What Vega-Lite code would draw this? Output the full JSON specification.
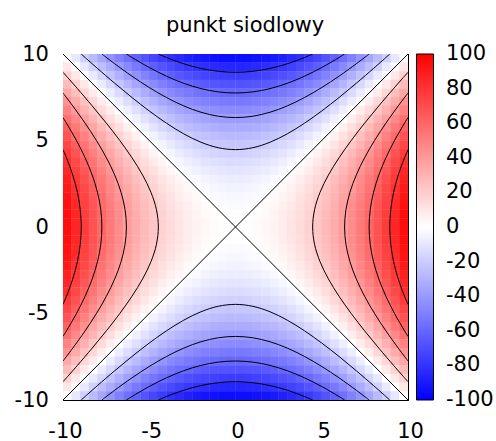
{
"$schema": "https://vega.github.io/schema/vega-lite/v6.json",
"width": 345, "height": 346,
"autosize": "none",
"padding": {"left": 63, "top": 54, "right": 88, "bottom": 41},
"background": "white",
"title": {"text": "punkt siodlowy", "font": "DejaVu Sans", "fontSize": 21, "fontWeight": "normal", "color": "black", "anchor": "middle", "dx": 9.5, "offset": 23, "dy": 33, "baseline": "alphabetic"},
"config": {
  "view": {"stroke": "black", "strokeWidth": 1},
  "axis": {"labelFont": "DejaVu Sans", "labelFontSize": 21, "labelColor": "black", "tickColor": "black", "tickSize": -8, "tickWidth": 1, "domain": false, "grid": false, "title": null, "labelFlush": false}
},
"datasets": {
"grid": [
{"x":-9.75,"y":9.75,"z":0},{"x":-9.25,"y":9.75,"z":-9.5},{"x":-8.75,"y":9.75,"z":-18.5},{"x":-8.25,"y":9.75,"z":-27},{"x":-7.75,"y":9.75,"z":-35},{"x":-7.25,"y":9.75,"z":-42.5},{"x":-6.75,"y":9.75,"z":-49.5},{"x":-6.25,"y":9.75,"z":-56},{"x":-5.75,"y":9.75,"z":-62},{"x":-5.25,"y":9.75,"z":-67.5},{"x":-4.75,"y":9.75,"z":-72.5},{"x":-4.25,"y":9.75,"z":-77},{"x":-3.75,"y":9.75,"z":-81},{"x":-3.25,"y":9.75,"z":-84.5},{"x":-2.75,"y":9.75,"z":-87.5},{"x":-2.25,"y":9.75,"z":-90},{"x":-1.75,"y":9.75,"z":-92},{"x":-1.25,"y":9.75,"z":-93.5},{"x":-0.75,"y":9.75,"z":-94.5},{"x":-0.25,"y":9.75,"z":-95},{"x":0.25,"y":9.75,"z":-95},{"x":0.75,"y":9.75,"z":-94.5},{"x":1.25,"y":9.75,"z":-93.5},{"x":1.75,"y":9.75,"z":-92},{"x":2.25,"y":9.75,"z":-90},{"x":2.75,"y":9.75,"z":-87.5},{"x":3.25,"y":9.75,"z":-84.5},{"x":3.75,"y":9.75,"z":-81},{"x":4.25,"y":9.75,"z":-77},{"x":4.75,"y":9.75,"z":-72.5},{"x":5.25,"y":9.75,"z":-67.5},{"x":5.75,"y":9.75,"z":-62},{"x":6.25,"y":9.75,"z":-56},{"x":6.75,"y":9.75,"z":-49.5},{"x":7.25,"y":9.75,"z":-42.5},{"x":7.75,"y":9.75,"z":-35},{"x":8.25,"y":9.75,"z":-27},{"x":8.75,"y":9.75,"z":-18.5},{"x":9.25,"y":9.75,"z":-9.5},{"x":9.75,"y":9.75,"z":0},
{"x":-9.75,"y":9.25,"z":9.5},{"x":-9.25,"y":9.25,"z":0},{"x":-8.75,"y":9.25,"z":-9},{"x":-8.25,"y":9.25,"z":-17.5},{"x":-7.75,"y":9.25,"z":-25.5},{"x":-7.25,"y":9.25,"z":-33},{"x":-6.75,"y":9.25,"z":-40},{"x":-6.25,"y":9.25,"z":-46.5},{"x":-5.75,"y":9.25,"z":-52.5},{"x":-5.25,"y":9.25,"z":-58},{"x":-4.75,"y":9.25,"z":-63},{"x":-4.25,"y":9.25,"z":-67.5},{"x":-3.75,"y":9.25,"z":-71.5},{"x":-3.25,"y":9.25,"z":-75},{"x":-2.75,"y":9.25,"z":-78},{"x":-2.25,"y":9.25,"z":-80.5},{"x":-1.75,"y":9.25,"z":-82.5},{"x":-1.25,"y":9.25,"z":-84},{"x":-0.75,"y":9.25,"z":-85},{"x":-0.25,"y":9.25,"z":-85.5},{"x":0.25,"y":9.25,"z":-85.5},{"x":0.75,"y":9.25,"z":-85},{"x":1.25,"y":9.25,"z":-84},{"x":1.75,"y":9.25,"z":-82.5},{"x":2.25,"y":9.25,"z":-80.5},{"x":2.75,"y":9.25,"z":-78},{"x":3.25,"y":9.25,"z":-75},{"x":3.75,"y":9.25,"z":-71.5},{"x":4.25,"y":9.25,"z":-67.5},{"x":4.75,"y":9.25,"z":-63},{"x":5.25,"y":9.25,"z":-58},{"x":5.75,"y":9.25,"z":-52.5},{"x":6.25,"y":9.25,"z":-46.5},{"x":6.75,"y":9.25,"z":-40},{"x":7.25,"y":9.25,"z":-33},{"x":7.75,"y":9.25,"z":-25.5},{"x":8.25,"y":9.25,"z":-17.5},{"x":8.75,"y":9.25,"z":-9},{"x":9.25,"y":9.25,"z":0},{"x":9.75,"y":9.25,"z":9.5},
{"x":-9.75,"y":8.75,"z":18.5},{"x":-9.25,"y":8.75,"z":9},{"x":-8.75,"y":8.75,"z":0},{"x":-8.25,"y":8.75,"z":-8.5},{"x":-7.75,"y":8.75,"z":-16.5},{"x":-7.25,"y":8.75,"z":-24},{"x":-6.75,"y":8.75,"z":-31},{"x":-6.25,"y":8.75,"z":-37.5},{"x":-5.75,"y":8.75,"z":-43.5},{"x":-5.25,"y":8.75,"z":-49},{"x":-4.75,"y":8.75,"z":-54},{"x":-4.25,"y":8.75,"z":-58.5},{"x":-3.75,"y":8.75,"z":-62.5},{"x":-3.25,"y":8.75,"z":-66},{"x":-2.75,"y":8.75,"z":-69},{"x":-2.25,"y":8.75,"z":-71.5},{"x":-1.75,"y":8.75,"z":-73.5},{"x":-1.25,"y":8.75,"z":-75},{"x":-0.75,"y":8.75,"z":-76},{"x":-0.25,"y":8.75,"z":-76.5},{"x":0.25,"y":8.75,"z":-76.5},{"x":0.75,"y":8.75,"z":-76},{"x":1.25,"y":8.75,"z":-75},{"x":1.75,"y":8.75,"z":-73.5},{"x":2.25,"y":8.75,"z":-71.5},{"x":2.75,"y":8.75,"z":-69},{"x":3.25,"y":8.75,"z":-66},{"x":3.75,"y":8.75,"z":-62.5},{"x":4.25,"y":8.75,"z":-58.5},{"x":4.75,"y":8.75,"z":-54},{"x":5.25,"y":8.75,"z":-49},{"x":5.75,"y":8.75,"z":-43.5},{"x":6.25,"y":8.75,"z":-37.5},{"x":6.75,"y":8.75,"z":-31},{"x":7.25,"y":8.75,"z":-24},{"x":7.75,"y":8.75,"z":-16.5},{"x":8.25,"y":8.75,"z":-8.5},{"x":8.75,"y":8.75,"z":0},{"x":9.25,"y":8.75,"z":9},{"x":9.75,"y":8.75,"z":18.5},
{"x":-9.75,"y":8.25,"z":27},{"x":-9.25,"y":8.25,"z":17.5},{"x":-8.75,"y":8.25,"z":8.5},{"x":-8.25,"y":8.25,"z":0},{"x":-7.75,"y":8.25,"z":-8},{"x":-7.25,"y":8.25,"z":-15.5},{"x":-6.75,"y":8.25,"z":-22.5},{"x":-6.25,"y":8.25,"z":-29},{"x":-5.75,"y":8.25,"z":-35},{"x":-5.25,"y":8.25,"z":-40.5},{"x":-4.75,"y":8.25,"z":-45.5},{"x":-4.25,"y":8.25,"z":-50},{"x":-3.75,"y":8.25,"z":-54},{"x":-3.25,"y":8.25,"z":-57.5},{"x":-2.75,"y":8.25,"z":-60.5},{"x":-2.25,"y":8.25,"z":-63},{"x":-1.75,"y":8.25,"z":-65},{"x":-1.25,"y":8.25,"z":-66.5},{"x":-0.75,"y":8.25,"z":-67.5},{"x":-0.25,"y":8.25,"z":-68},{"x":0.25,"y":8.25,"z":-68},{"x":0.75,"y":8.25,"z":-67.5},{"x":1.25,"y":8.25,"z":-66.5},{"x":1.75,"y":8.25,"z":-65},{"x":2.25,"y":8.25,"z":-63},{"x":2.75,"y":8.25,"z":-60.5},{"x":3.25,"y":8.25,"z":-57.5},{"x":3.75,"y":8.25,"z":-54},{"x":4.25,"y":8.25,"z":-50},{"x":4.75,"y":8.25,"z":-45.5},{"x":5.25,"y":8.25,"z":-40.5},{"x":5.75,"y":8.25,"z":-35},{"x":6.25,"y":8.25,"z":-29},{"x":6.75,"y":8.25,"z":-22.5},{"x":7.25,"y":8.25,"z":-15.5},{"x":7.75,"y":8.25,"z":-8},{"x":8.25,"y":8.25,"z":0},{"x":8.75,"y":8.25,"z":8.5},{"x":9.25,"y":8.25,"z":17.5},{"x":9.75,"y":8.25,"z":27},
{"x":-9.75,"y":7.75,"z":35},{"x":-9.25,"y":7.75,"z":25.5},{"x":-8.75,"y":7.75,"z":16.5},{"x":-8.25,"y":7.75,"z":8},{"x":-7.75,"y":7.75,"z":0},{"x":-7.25,"y":7.75,"z":-7.5},{"x":-6.75,"y":7.75,"z":-14.5},{"x":-6.25,"y":7.75,"z":-21},{"x":-5.75,"y":7.75,"z":-27},{"x":-5.25,"y":7.75,"z":-32.5},{"x":-4.75,"y":7.75,"z":-37.5},{"x":-4.25,"y":7.75,"z":-42},{"x":-3.75,"y":7.75,"z":-46},{"x":-3.25,"y":7.75,"z":-49.5},{"x":-2.75,"y":7.75,"z":-52.5},{"x":-2.25,"y":7.75,"z":-55},{"x":-1.75,"y":7.75,"z":-57},{"x":-1.25,"y":7.75,"z":-58.5},{"x":-0.75,"y":7.75,"z":-59.5},{"x":-0.25,"y":7.75,"z":-60},{"x":0.25,"y":7.75,"z":-60},{"x":0.75,"y":7.75,"z":-59.5},{"x":1.25,"y":7.75,"z":-58.5},{"x":1.75,"y":7.75,"z":-57},{"x":2.25,"y":7.75,"z":-55},{"x":2.75,"y":7.75,"z":-52.5},{"x":3.25,"y":7.75,"z":-49.5},{"x":3.75,"y":7.75,"z":-46},{"x":4.25,"y":7.75,"z":-42},{"x":4.75,"y":7.75,"z":-37.5},{"x":5.25,"y":7.75,"z":-32.5},{"x":5.75,"y":7.75,"z":-27},{"x":6.25,"y":7.75,"z":-21},{"x":6.75,"y":7.75,"z":-14.5},{"x":7.25,"y":7.75,"z":-7.5},{"x":7.75,"y":7.75,"z":0},{"x":8.25,"y":7.75,"z":8},{"x":8.75,"y":7.75,"z":16.5},{"x":9.25,"y":7.75,"z":25.5},{"x":9.75,"y":7.75,"z":35},
{"x":-9.75,"y":7.25,"z":42.5},{"x":-9.25,"y":7.25,"z":33},{"x":-8.75,"y":7.25,"z":24},{"x":-8.25,"y":7.25,"z":15.5},{"x":-7.75,"y":7.25,"z":7.5},{"x":-7.25,"y":7.25,"z":0},{"x":-6.75,"y":7.25,"z":-7},{"x":-6.25,"y":7.25,"z":-13.5},{"x":-5.75,"y":7.25,"z":-19.5},{"x":-5.25,"y":7.25,"z":-25},{"x":-4.75,"y":7.25,"z":-30},{"x":-4.25,"y":7.25,"z":-34.5},{"x":-3.75,"y":7.25,"z":-38.5},{"x":-3.25,"y":7.25,"z":-42},{"x":-2.75,"y":7.25,"z":-45},{"x":-2.25,"y":7.25,"z":-47.5},{"x":-1.75,"y":7.25,"z":-49.5},{"x":-1.25,"y":7.25,"z":-51},{"x":-0.75,"y":7.25,"z":-52},{"x":-0.25,"y":7.25,"z":-52.5},{"x":0.25,"y":7.25,"z":-52.5},{"x":0.75,"y":7.25,"z":-52},{"x":1.25,"y":7.25,"z":-51},{"x":1.75,"y":7.25,"z":-49.5},{"x":2.25,"y":7.25,"z":-47.5},{"x":2.75,"y":7.25,"z":-45},{"x":3.25,"y":7.25,"z":-42},{"x":3.75,"y":7.25,"z":-38.5},{"x":4.25,"y":7.25,"z":-34.5},{"x":4.75,"y":7.25,"z":-30},{"x":5.25,"y":7.25,"z":-25},{"x":5.75,"y":7.25,"z":-19.5},{"x":6.25,"y":7.25,"z":-13.5},{"x":6.75,"y":7.25,"z":-7},{"x":7.25,"y":7.25,"z":0},{"x":7.75,"y":7.25,"z":7.5},{"x":8.25,"y":7.25,"z":15.5},{"x":8.75,"y":7.25,"z":24},{"x":9.25,"y":7.25,"z":33},{"x":9.75,"y":7.25,"z":42.5},
{"x":-9.75,"y":6.75,"z":49.5},{"x":-9.25,"y":6.75,"z":40},{"x":-8.75,"y":6.75,"z":31},{"x":-8.25,"y":6.75,"z":22.5},{"x":-7.75,"y":6.75,"z":14.5},{"x":-7.25,"y":6.75,"z":7},{"x":-6.75,"y":6.75,"z":0},{"x":-6.25,"y":6.75,"z":-6.5},{"x":-5.75,"y":6.75,"z":-12.5},{"x":-5.25,"y":6.75,"z":-18},{"x":-4.75,"y":6.75,"z":-23},{"x":-4.25,"y":6.75,"z":-27.5},{"x":-3.75,"y":6.75,"z":-31.5},{"x":-3.25,"y":6.75,"z":-35},{"x":-2.75,"y":6.75,"z":-38},{"x":-2.25,"y":6.75,"z":-40.5},{"x":-1.75,"y":6.75,"z":-42.5},{"x":-1.25,"y":6.75,"z":-44},{"x":-0.75,"y":6.75,"z":-45},{"x":-0.25,"y":6.75,"z":-45.5},{"x":0.25,"y":6.75,"z":-45.5},{"x":0.75,"y":6.75,"z":-45},{"x":1.25,"y":6.75,"z":-44},{"x":1.75,"y":6.75,"z":-42.5},{"x":2.25,"y":6.75,"z":-40.5},{"x":2.75,"y":6.75,"z":-38},{"x":3.25,"y":6.75,"z":-35},{"x":3.75,"y":6.75,"z":-31.5},{"x":4.25,"y":6.75,"z":-27.5},{"x":4.75,"y":6.75,"z":-23},{"x":5.25,"y":6.75,"z":-18},{"x":5.75,"y":6.75,"z":-12.5},{"x":6.25,"y":6.75,"z":-6.5},{"x":6.75,"y":6.75,"z":0},{"x":7.25,"y":6.75,"z":7},{"x":7.75,"y":6.75,"z":14.5},{"x":8.25,"y":6.75,"z":22.5},{"x":8.75,"y":6.75,"z":31},{"x":9.25,"y":6.75,"z":40},{"x":9.75,"y":6.75,"z":49.5},
{"x":-9.75,"y":6.25,"z":56},{"x":-9.25,"y":6.25,"z":46.5},{"x":-8.75,"y":6.25,"z":37.5},{"x":-8.25,"y":6.25,"z":29},{"x":-7.75,"y":6.25,"z":21},{"x":-7.25,"y":6.25,"z":13.5},{"x":-6.75,"y":6.25,"z":6.5},{"x":-6.25,"y":6.25,"z":0},{"x":-5.75,"y":6.25,"z":-6},{"x":-5.25,"y":6.25,"z":-11.5},{"x":-4.75,"y":6.25,"z":-16.5},{"x":-4.25,"y":6.25,"z":-21},{"x":-3.75,"y":6.25,"z":-25},{"x":-3.25,"y":6.25,"z":-28.5},{"x":-2.75,"y":6.25,"z":-31.5},{"x":-2.25,"y":6.25,"z":-34},{"x":-1.75,"y":6.25,"z":-36},{"x":-1.25,"y":6.25,"z":-37.5},{"x":-0.75,"y":6.25,"z":-38.5},{"x":-0.25,"y":6.25,"z":-39},{"x":0.25,"y":6.25,"z":-39},{"x":0.75,"y":6.25,"z":-38.5},{"x":1.25,"y":6.25,"z":-37.5},{"x":1.75,"y":6.25,"z":-36},{"x":2.25,"y":6.25,"z":-34},{"x":2.75,"y":6.25,"z":-31.5},{"x":3.25,"y":6.25,"z":-28.5},{"x":3.75,"y":6.25,"z":-25},{"x":4.25,"y":6.25,"z":-21},{"x":4.75,"y":6.25,"z":-16.5},{"x":5.25,"y":6.25,"z":-11.5},{"x":5.75,"y":6.25,"z":-6},{"x":6.25,"y":6.25,"z":0},{"x":6.75,"y":6.25,"z":6.5},{"x":7.25,"y":6.25,"z":13.5},{"x":7.75,"y":6.25,"z":21},{"x":8.25,"y":6.25,"z":29},{"x":8.75,"y":6.25,"z":37.5},{"x":9.25,"y":6.25,"z":46.5},{"x":9.75,"y":6.25,"z":56},
{"x":-9.75,"y":5.75,"z":62},{"x":-9.25,"y":5.75,"z":52.5},{"x":-8.75,"y":5.75,"z":43.5},{"x":-8.25,"y":5.75,"z":35},{"x":-7.75,"y":5.75,"z":27},{"x":-7.25,"y":5.75,"z":19.5},{"x":-6.75,"y":5.75,"z":12.5},{"x":-6.25,"y":5.75,"z":6},{"x":-5.75,"y":5.75,"z":0},{"x":-5.25,"y":5.75,"z":-5.5},{"x":-4.75,"y":5.75,"z":-10.5},{"x":-4.25,"y":5.75,"z":-15},{"x":-3.75,"y":5.75,"z":-19},{"x":-3.25,"y":5.75,"z":-22.5},{"x":-2.75,"y":5.75,"z":-25.5},{"x":-2.25,"y":5.75,"z":-28},{"x":-1.75,"y":5.75,"z":-30},{"x":-1.25,"y":5.75,"z":-31.5},{"x":-0.75,"y":5.75,"z":-32.5},{"x":-0.25,"y":5.75,"z":-33},{"x":0.25,"y":5.75,"z":-33},{"x":0.75,"y":5.75,"z":-32.5},{"x":1.25,"y":5.75,"z":-31.5},{"x":1.75,"y":5.75,"z":-30},{"x":2.25,"y":5.75,"z":-28},{"x":2.75,"y":5.75,"z":-25.5},{"x":3.25,"y":5.75,"z":-22.5},{"x":3.75,"y":5.75,"z":-19},{"x":4.25,"y":5.75,"z":-15},{"x":4.75,"y":5.75,"z":-10.5},{"x":5.25,"y":5.75,"z":-5.5},{"x":5.75,"y":5.75,"z":0},{"x":6.25,"y":5.75,"z":6},{"x":6.75,"y":5.75,"z":12.5},{"x":7.25,"y":5.75,"z":19.5},{"x":7.75,"y":5.75,"z":27},{"x":8.25,"y":5.75,"z":35},{"x":8.75,"y":5.75,"z":43.5},{"x":9.25,"y":5.75,"z":52.5},{"x":9.75,"y":5.75,"z":62},
{"x":-9.75,"y":5.25,"z":67.5},{"x":-9.25,"y":5.25,"z":58},{"x":-8.75,"y":5.25,"z":49},{"x":-8.25,"y":5.25,"z":40.5},{"x":-7.75,"y":5.25,"z":32.5},{"x":-7.25,"y":5.25,"z":25},{"x":-6.75,"y":5.25,"z":18},{"x":-6.25,"y":5.25,"z":11.5},{"x":-5.75,"y":5.25,"z":5.5},{"x":-5.25,"y":5.25,"z":0},{"x":-4.75,"y":5.25,"z":-5},{"x":-4.25,"y":5.25,"z":-9.5},{"x":-3.75,"y":5.25,"z":-13.5},{"x":-3.25,"y":5.25,"z":-17},{"x":-2.75,"y":5.25,"z":-20},{"x":-2.25,"y":5.25,"z":-22.5},{"x":-1.75,"y":5.25,"z":-24.5},{"x":-1.25,"y":5.25,"z":-26},{"x":-0.75,"y":5.25,"z":-27},{"x":-0.25,"y":5.25,"z":-27.5},{"x":0.25,"y":5.25,"z":-27.5},{"x":0.75,"y":5.25,"z":-27},{"x":1.25,"y":5.25,"z":-26},{"x":1.75,"y":5.25,"z":-24.5},{"x":2.25,"y":5.25,"z":-22.5},{"x":2.75,"y":5.25,"z":-20},{"x":3.25,"y":5.25,"z":-17},{"x":3.75,"y":5.25,"z":-13.5},{"x":4.25,"y":5.25,"z":-9.5},{"x":4.75,"y":5.25,"z":-5},{"x":5.25,"y":5.25,"z":0},{"x":5.75,"y":5.25,"z":5.5},{"x":6.25,"y":5.25,"z":11.5},{"x":6.75,"y":5.25,"z":18},{"x":7.25,"y":5.25,"z":25},{"x":7.75,"y":5.25,"z":32.5},{"x":8.25,"y":5.25,"z":40.5},{"x":8.75,"y":5.25,"z":49},{"x":9.25,"y":5.25,"z":58},{"x":9.75,"y":5.25,"z":67.5},
{"x":-9.75,"y":4.75,"z":72.5},{"x":-9.25,"y":4.75,"z":63},{"x":-8.75,"y":4.75,"z":54},{"x":-8.25,"y":4.75,"z":45.5},{"x":-7.75,"y":4.75,"z":37.5},{"x":-7.25,"y":4.75,"z":30},{"x":-6.75,"y":4.75,"z":23},{"x":-6.25,"y":4.75,"z":16.5},{"x":-5.75,"y":4.75,"z":10.5},{"x":-5.25,"y":4.75,"z":5},{"x":-4.75,"y":4.75,"z":0},{"x":-4.25,"y":4.75,"z":-4.5},{"x":-3.75,"y":4.75,"z":-8.5},{"x":-3.25,"y":4.75,"z":-12},{"x":-2.75,"y":4.75,"z":-15},{"x":-2.25,"y":4.75,"z":-17.5},{"x":-1.75,"y":4.75,"z":-19.5},{"x":-1.25,"y":4.75,"z":-21},{"x":-0.75,"y":4.75,"z":-22},{"x":-0.25,"y":4.75,"z":-22.5},{"x":0.25,"y":4.75,"z":-22.5},{"x":0.75,"y":4.75,"z":-22},{"x":1.25,"y":4.75,"z":-21},{"x":1.75,"y":4.75,"z":-19.5},{"x":2.25,"y":4.75,"z":-17.5},{"x":2.75,"y":4.75,"z":-15},{"x":3.25,"y":4.75,"z":-12},{"x":3.75,"y":4.75,"z":-8.5},{"x":4.25,"y":4.75,"z":-4.5},{"x":4.75,"y":4.75,"z":0},{"x":5.25,"y":4.75,"z":5},{"x":5.75,"y":4.75,"z":10.5},{"x":6.25,"y":4.75,"z":16.5},{"x":6.75,"y":4.75,"z":23},{"x":7.25,"y":4.75,"z":30},{"x":7.75,"y":4.75,"z":37.5},{"x":8.25,"y":4.75,"z":45.5},{"x":8.75,"y":4.75,"z":54},{"x":9.25,"y":4.75,"z":63},{"x":9.75,"y":4.75,"z":72.5},
{"x":-9.75,"y":4.25,"z":77},{"x":-9.25,"y":4.25,"z":67.5},{"x":-8.75,"y":4.25,"z":58.5},{"x":-8.25,"y":4.25,"z":50},{"x":-7.75,"y":4.25,"z":42},{"x":-7.25,"y":4.25,"z":34.5},{"x":-6.75,"y":4.25,"z":27.5},{"x":-6.25,"y":4.25,"z":21},{"x":-5.75,"y":4.25,"z":15},{"x":-5.25,"y":4.25,"z":9.5},{"x":-4.75,"y":4.25,"z":4.5},{"x":-4.25,"y":4.25,"z":0},{"x":-3.75,"y":4.25,"z":-4},{"x":-3.25,"y":4.25,"z":-7.5},{"x":-2.75,"y":4.25,"z":-10.5},{"x":-2.25,"y":4.25,"z":-13},{"x":-1.75,"y":4.25,"z":-15},{"x":-1.25,"y":4.25,"z":-16.5},{"x":-0.75,"y":4.25,"z":-17.5},{"x":-0.25,"y":4.25,"z":-18},{"x":0.25,"y":4.25,"z":-18},{"x":0.75,"y":4.25,"z":-17.5},{"x":1.25,"y":4.25,"z":-16.5},{"x":1.75,"y":4.25,"z":-15},{"x":2.25,"y":4.25,"z":-13},{"x":2.75,"y":4.25,"z":-10.5},{"x":3.25,"y":4.25,"z":-7.5},{"x":3.75,"y":4.25,"z":-4},{"x":4.25,"y":4.25,"z":0},{"x":4.75,"y":4.25,"z":4.5},{"x":5.25,"y":4.25,"z":9.5},{"x":5.75,"y":4.25,"z":15},{"x":6.25,"y":4.25,"z":21},{"x":6.75,"y":4.25,"z":27.5},{"x":7.25,"y":4.25,"z":34.5},{"x":7.75,"y":4.25,"z":42},{"x":8.25,"y":4.25,"z":50},{"x":8.75,"y":4.25,"z":58.5},{"x":9.25,"y":4.25,"z":67.5},{"x":9.75,"y":4.25,"z":77},
{"x":-9.75,"y":3.75,"z":81},{"x":-9.25,"y":3.75,"z":71.5},{"x":-8.75,"y":3.75,"z":62.5},{"x":-8.25,"y":3.75,"z":54},{"x":-7.75,"y":3.75,"z":46},{"x":-7.25,"y":3.75,"z":38.5},{"x":-6.75,"y":3.75,"z":31.5},{"x":-6.25,"y":3.75,"z":25},{"x":-5.75,"y":3.75,"z":19},{"x":-5.25,"y":3.75,"z":13.5},{"x":-4.75,"y":3.75,"z":8.5},{"x":-4.25,"y":3.75,"z":4},{"x":-3.75,"y":3.75,"z":0},{"x":-3.25,"y":3.75,"z":-3.5},{"x":-2.75,"y":3.75,"z":-6.5},{"x":-2.25,"y":3.75,"z":-9},{"x":-1.75,"y":3.75,"z":-11},{"x":-1.25,"y":3.75,"z":-12.5},{"x":-0.75,"y":3.75,"z":-13.5},{"x":-0.25,"y":3.75,"z":-14},{"x":0.25,"y":3.75,"z":-14},{"x":0.75,"y":3.75,"z":-13.5},{"x":1.25,"y":3.75,"z":-12.5},{"x":1.75,"y":3.75,"z":-11},{"x":2.25,"y":3.75,"z":-9},{"x":2.75,"y":3.75,"z":-6.5},{"x":3.25,"y":3.75,"z":-3.5},{"x":3.75,"y":3.75,"z":0},{"x":4.25,"y":3.75,"z":4},{"x":4.75,"y":3.75,"z":8.5},{"x":5.25,"y":3.75,"z":13.5},{"x":5.75,"y":3.75,"z":19},{"x":6.25,"y":3.75,"z":25},{"x":6.75,"y":3.75,"z":31.5},{"x":7.25,"y":3.75,"z":38.5},{"x":7.75,"y":3.75,"z":46},{"x":8.25,"y":3.75,"z":54},{"x":8.75,"y":3.75,"z":62.5},{"x":9.25,"y":3.75,"z":71.5},{"x":9.75,"y":3.75,"z":81},
{"x":-9.75,"y":3.25,"z":84.5},{"x":-9.25,"y":3.25,"z":75},{"x":-8.75,"y":3.25,"z":66},{"x":-8.25,"y":3.25,"z":57.5},{"x":-7.75,"y":3.25,"z":49.5},{"x":-7.25,"y":3.25,"z":42},{"x":-6.75,"y":3.25,"z":35},{"x":-6.25,"y":3.25,"z":28.5},{"x":-5.75,"y":3.25,"z":22.5},{"x":-5.25,"y":3.25,"z":17},{"x":-4.75,"y":3.25,"z":12},{"x":-4.25,"y":3.25,"z":7.5},{"x":-3.75,"y":3.25,"z":3.5},{"x":-3.25,"y":3.25,"z":0},{"x":-2.75,"y":3.25,"z":-3},{"x":-2.25,"y":3.25,"z":-5.5},{"x":-1.75,"y":3.25,"z":-7.5},{"x":-1.25,"y":3.25,"z":-9},{"x":-0.75,"y":3.25,"z":-10},{"x":-0.25,"y":3.25,"z":-10.5},{"x":0.25,"y":3.25,"z":-10.5},{"x":0.75,"y":3.25,"z":-10},{"x":1.25,"y":3.25,"z":-9},{"x":1.75,"y":3.25,"z":-7.5},{"x":2.25,"y":3.25,"z":-5.5},{"x":2.75,"y":3.25,"z":-3},{"x":3.25,"y":3.25,"z":0},{"x":3.75,"y":3.25,"z":3.5},{"x":4.25,"y":3.25,"z":7.5},{"x":4.75,"y":3.25,"z":12},{"x":5.25,"y":3.25,"z":17},{"x":5.75,"y":3.25,"z":22.5},{"x":6.25,"y":3.25,"z":28.5},{"x":6.75,"y":3.25,"z":35},{"x":7.25,"y":3.25,"z":42},{"x":7.75,"y":3.25,"z":49.5},{"x":8.25,"y":3.25,"z":57.5},{"x":8.75,"y":3.25,"z":66},{"x":9.25,"y":3.25,"z":75},{"x":9.75,"y":3.25,"z":84.5},
{"x":-9.75,"y":2.75,"z":87.5},{"x":-9.25,"y":2.75,"z":78},{"x":-8.75,"y":2.75,"z":69},{"x":-8.25,"y":2.75,"z":60.5},{"x":-7.75,"y":2.75,"z":52.5},{"x":-7.25,"y":2.75,"z":45},{"x":-6.75,"y":2.75,"z":38},{"x":-6.25,"y":2.75,"z":31.5},{"x":-5.75,"y":2.75,"z":25.5},{"x":-5.25,"y":2.75,"z":20},{"x":-4.75,"y":2.75,"z":15},{"x":-4.25,"y":2.75,"z":10.5},{"x":-3.75,"y":2.75,"z":6.5},{"x":-3.25,"y":2.75,"z":3},{"x":-2.75,"y":2.75,"z":0},{"x":-2.25,"y":2.75,"z":-2.5},{"x":-1.75,"y":2.75,"z":-4.5},{"x":-1.25,"y":2.75,"z":-6},{"x":-0.75,"y":2.75,"z":-7},{"x":-0.25,"y":2.75,"z":-7.5},{"x":0.25,"y":2.75,"z":-7.5},{"x":0.75,"y":2.75,"z":-7},{"x":1.25,"y":2.75,"z":-6},{"x":1.75,"y":2.75,"z":-4.5},{"x":2.25,"y":2.75,"z":-2.5},{"x":2.75,"y":2.75,"z":0},{"x":3.25,"y":2.75,"z":3},{"x":3.75,"y":2.75,"z":6.5},{"x":4.25,"y":2.75,"z":10.5},{"x":4.75,"y":2.75,"z":15},{"x":5.25,"y":2.75,"z":20},{"x":5.75,"y":2.75,"z":25.5},{"x":6.25,"y":2.75,"z":31.5},{"x":6.75,"y":2.75,"z":38},{"x":7.25,"y":2.75,"z":45},{"x":7.75,"y":2.75,"z":52.5},{"x":8.25,"y":2.75,"z":60.5},{"x":8.75,"y":2.75,"z":69},{"x":9.25,"y":2.75,"z":78},{"x":9.75,"y":2.75,"z":87.5},
{"x":-9.75,"y":2.25,"z":90},{"x":-9.25,"y":2.25,"z":80.5},{"x":-8.75,"y":2.25,"z":71.5},{"x":-8.25,"y":2.25,"z":63},{"x":-7.75,"y":2.25,"z":55},{"x":-7.25,"y":2.25,"z":47.5},{"x":-6.75,"y":2.25,"z":40.5},{"x":-6.25,"y":2.25,"z":34},{"x":-5.75,"y":2.25,"z":28},{"x":-5.25,"y":2.25,"z":22.5},{"x":-4.75,"y":2.25,"z":17.5},{"x":-4.25,"y":2.25,"z":13},{"x":-3.75,"y":2.25,"z":9},{"x":-3.25,"y":2.25,"z":5.5},{"x":-2.75,"y":2.25,"z":2.5},{"x":-2.25,"y":2.25,"z":0},{"x":-1.75,"y":2.25,"z":-2},{"x":-1.25,"y":2.25,"z":-3.5},{"x":-0.75,"y":2.25,"z":-4.5},{"x":-0.25,"y":2.25,"z":-5},{"x":0.25,"y":2.25,"z":-5},{"x":0.75,"y":2.25,"z":-4.5},{"x":1.25,"y":2.25,"z":-3.5},{"x":1.75,"y":2.25,"z":-2},{"x":2.25,"y":2.25,"z":0},{"x":2.75,"y":2.25,"z":2.5},{"x":3.25,"y":2.25,"z":5.5},{"x":3.75,"y":2.25,"z":9},{"x":4.25,"y":2.25,"z":13},{"x":4.75,"y":2.25,"z":17.5},{"x":5.25,"y":2.25,"z":22.5},{"x":5.75,"y":2.25,"z":28},{"x":6.25,"y":2.25,"z":34},{"x":6.75,"y":2.25,"z":40.5},{"x":7.25,"y":2.25,"z":47.5},{"x":7.75,"y":2.25,"z":55},{"x":8.25,"y":2.25,"z":63},{"x":8.75,"y":2.25,"z":71.5},{"x":9.25,"y":2.25,"z":80.5},{"x":9.75,"y":2.25,"z":90},
{"x":-9.75,"y":1.75,"z":92},{"x":-9.25,"y":1.75,"z":82.5},{"x":-8.75,"y":1.75,"z":73.5},{"x":-8.25,"y":1.75,"z":65},{"x":-7.75,"y":1.75,"z":57},{"x":-7.25,"y":1.75,"z":49.5},{"x":-6.75,"y":1.75,"z":42.5},{"x":-6.25,"y":1.75,"z":36},{"x":-5.75,"y":1.75,"z":30},{"x":-5.25,"y":1.75,"z":24.5},{"x":-4.75,"y":1.75,"z":19.5},{"x":-4.25,"y":1.75,"z":15},{"x":-3.75,"y":1.75,"z":11},{"x":-3.25,"y":1.75,"z":7.5},{"x":-2.75,"y":1.75,"z":4.5},{"x":-2.25,"y":1.75,"z":2},{"x":-1.75,"y":1.75,"z":0},{"x":-1.25,"y":1.75,"z":-1.5},{"x":-0.75,"y":1.75,"z":-2.5},{"x":-0.25,"y":1.75,"z":-3},{"x":0.25,"y":1.75,"z":-3},{"x":0.75,"y":1.75,"z":-2.5},{"x":1.25,"y":1.75,"z":-1.5},{"x":1.75,"y":1.75,"z":0},{"x":2.25,"y":1.75,"z":2},{"x":2.75,"y":1.75,"z":4.5},{"x":3.25,"y":1.75,"z":7.5},{"x":3.75,"y":1.75,"z":11},{"x":4.25,"y":1.75,"z":15},{"x":4.75,"y":1.75,"z":19.5},{"x":5.25,"y":1.75,"z":24.5},{"x":5.75,"y":1.75,"z":30},{"x":6.25,"y":1.75,"z":36},{"x":6.75,"y":1.75,"z":42.5},{"x":7.25,"y":1.75,"z":49.5},{"x":7.75,"y":1.75,"z":57},{"x":8.25,"y":1.75,"z":65},{"x":8.75,"y":1.75,"z":73.5},{"x":9.25,"y":1.75,"z":82.5},{"x":9.75,"y":1.75,"z":92},
{"x":-9.75,"y":1.25,"z":93.5},{"x":-9.25,"y":1.25,"z":84},{"x":-8.75,"y":1.25,"z":75},{"x":-8.25,"y":1.25,"z":66.5},{"x":-7.75,"y":1.25,"z":58.5},{"x":-7.25,"y":1.25,"z":51},{"x":-6.75,"y":1.25,"z":44},{"x":-6.25,"y":1.25,"z":37.5},{"x":-5.75,"y":1.25,"z":31.5},{"x":-5.25,"y":1.25,"z":26},{"x":-4.75,"y":1.25,"z":21},{"x":-4.25,"y":1.25,"z":16.5},{"x":-3.75,"y":1.25,"z":12.5},{"x":-3.25,"y":1.25,"z":9},{"x":-2.75,"y":1.25,"z":6},{"x":-2.25,"y":1.25,"z":3.5},{"x":-1.75,"y":1.25,"z":1.5},{"x":-1.25,"y":1.25,"z":0},{"x":-0.75,"y":1.25,"z":-1},{"x":-0.25,"y":1.25,"z":-1.5},{"x":0.25,"y":1.25,"z":-1.5},{"x":0.75,"y":1.25,"z":-1},{"x":1.25,"y":1.25,"z":0},{"x":1.75,"y":1.25,"z":1.5},{"x":2.25,"y":1.25,"z":3.5},{"x":2.75,"y":1.25,"z":6},{"x":3.25,"y":1.25,"z":9},{"x":3.75,"y":1.25,"z":12.5},{"x":4.25,"y":1.25,"z":16.5},{"x":4.75,"y":1.25,"z":21},{"x":5.25,"y":1.25,"z":26},{"x":5.75,"y":1.25,"z":31.5},{"x":6.25,"y":1.25,"z":37.5},{"x":6.75,"y":1.25,"z":44},{"x":7.25,"y":1.25,"z":51},{"x":7.75,"y":1.25,"z":58.5},{"x":8.25,"y":1.25,"z":66.5},{"x":8.75,"y":1.25,"z":75},{"x":9.25,"y":1.25,"z":84},{"x":9.75,"y":1.25,"z":93.5},
{"x":-9.75,"y":0.75,"z":94.5},{"x":-9.25,"y":0.75,"z":85},{"x":-8.75,"y":0.75,"z":76},{"x":-8.25,"y":0.75,"z":67.5},{"x":-7.75,"y":0.75,"z":59.5},{"x":-7.25,"y":0.75,"z":52},{"x":-6.75,"y":0.75,"z":45},{"x":-6.25,"y":0.75,"z":38.5},{"x":-5.75,"y":0.75,"z":32.5},{"x":-5.25,"y":0.75,"z":27},{"x":-4.75,"y":0.75,"z":22},{"x":-4.25,"y":0.75,"z":17.5},{"x":-3.75,"y":0.75,"z":13.5},{"x":-3.25,"y":0.75,"z":10},{"x":-2.75,"y":0.75,"z":7},{"x":-2.25,"y":0.75,"z":4.5},{"x":-1.75,"y":0.75,"z":2.5},{"x":-1.25,"y":0.75,"z":1},{"x":-0.75,"y":0.75,"z":0},{"x":-0.25,"y":0.75,"z":-0.5},{"x":0.25,"y":0.75,"z":-0.5},{"x":0.75,"y":0.75,"z":0},{"x":1.25,"y":0.75,"z":1},{"x":1.75,"y":0.75,"z":2.5},{"x":2.25,"y":0.75,"z":4.5},{"x":2.75,"y":0.75,"z":7},{"x":3.25,"y":0.75,"z":10},{"x":3.75,"y":0.75,"z":13.5},{"x":4.25,"y":0.75,"z":17.5},{"x":4.75,"y":0.75,"z":22},{"x":5.25,"y":0.75,"z":27},{"x":5.75,"y":0.75,"z":32.5},{"x":6.25,"y":0.75,"z":38.5},{"x":6.75,"y":0.75,"z":45},{"x":7.25,"y":0.75,"z":52},{"x":7.75,"y":0.75,"z":59.5},{"x":8.25,"y":0.75,"z":67.5},{"x":8.75,"y":0.75,"z":76},{"x":9.25,"y":0.75,"z":85},{"x":9.75,"y":0.75,"z":94.5},
{"x":-9.75,"y":0.25,"z":95},{"x":-9.25,"y":0.25,"z":85.5},{"x":-8.75,"y":0.25,"z":76.5},{"x":-8.25,"y":0.25,"z":68},{"x":-7.75,"y":0.25,"z":60},{"x":-7.25,"y":0.25,"z":52.5},{"x":-6.75,"y":0.25,"z":45.5},{"x":-6.25,"y":0.25,"z":39},{"x":-5.75,"y":0.25,"z":33},{"x":-5.25,"y":0.25,"z":27.5},{"x":-4.75,"y":0.25,"z":22.5},{"x":-4.25,"y":0.25,"z":18},{"x":-3.75,"y":0.25,"z":14},{"x":-3.25,"y":0.25,"z":10.5},{"x":-2.75,"y":0.25,"z":7.5},{"x":-2.25,"y":0.25,"z":5},{"x":-1.75,"y":0.25,"z":3},{"x":-1.25,"y":0.25,"z":1.5},{"x":-0.75,"y":0.25,"z":0.5},{"x":-0.25,"y":0.25,"z":0},{"x":0.25,"y":0.25,"z":0},{"x":0.75,"y":0.25,"z":0.5},{"x":1.25,"y":0.25,"z":1.5},{"x":1.75,"y":0.25,"z":3},{"x":2.25,"y":0.25,"z":5},{"x":2.75,"y":0.25,"z":7.5},{"x":3.25,"y":0.25,"z":10.5},{"x":3.75,"y":0.25,"z":14},{"x":4.25,"y":0.25,"z":18},{"x":4.75,"y":0.25,"z":22.5},{"x":5.25,"y":0.25,"z":27.5},{"x":5.75,"y":0.25,"z":33},{"x":6.25,"y":0.25,"z":39},{"x":6.75,"y":0.25,"z":45.5},{"x":7.25,"y":0.25,"z":52.5},{"x":7.75,"y":0.25,"z":60},{"x":8.25,"y":0.25,"z":68},{"x":8.75,"y":0.25,"z":76.5},{"x":9.25,"y":0.25,"z":85.5},{"x":9.75,"y":0.25,"z":95},
{"x":-9.75,"y":-0.25,"z":95},{"x":-9.25,"y":-0.25,"z":85.5},{"x":-8.75,"y":-0.25,"z":76.5},{"x":-8.25,"y":-0.25,"z":68},{"x":-7.75,"y":-0.25,"z":60},{"x":-7.25,"y":-0.25,"z":52.5},{"x":-6.75,"y":-0.25,"z":45.5},{"x":-6.25,"y":-0.25,"z":39},{"x":-5.75,"y":-0.25,"z":33},{"x":-5.25,"y":-0.25,"z":27.5},{"x":-4.75,"y":-0.25,"z":22.5},{"x":-4.25,"y":-0.25,"z":18},{"x":-3.75,"y":-0.25,"z":14},{"x":-3.25,"y":-0.25,"z":10.5},{"x":-2.75,"y":-0.25,"z":7.5},{"x":-2.25,"y":-0.25,"z":5},{"x":-1.75,"y":-0.25,"z":3},{"x":-1.25,"y":-0.25,"z":1.5},{"x":-0.75,"y":-0.25,"z":0.5},{"x":-0.25,"y":-0.25,"z":0},{"x":0.25,"y":-0.25,"z":0},{"x":0.75,"y":-0.25,"z":0.5},{"x":1.25,"y":-0.25,"z":1.5},{"x":1.75,"y":-0.25,"z":3},{"x":2.25,"y":-0.25,"z":5},{"x":2.75,"y":-0.25,"z":7.5},{"x":3.25,"y":-0.25,"z":10.5},{"x":3.75,"y":-0.25,"z":14},{"x":4.25,"y":-0.25,"z":18},{"x":4.75,"y":-0.25,"z":22.5},{"x":5.25,"y":-0.25,"z":27.5},{"x":5.75,"y":-0.25,"z":33},{"x":6.25,"y":-0.25,"z":39},{"x":6.75,"y":-0.25,"z":45.5},{"x":7.25,"y":-0.25,"z":52.5},{"x":7.75,"y":-0.25,"z":60},{"x":8.25,"y":-0.25,"z":68},{"x":8.75,"y":-0.25,"z":76.5},{"x":9.25,"y":-0.25,"z":85.5},{"x":9.75,"y":-0.25,"z":95},
{"x":-9.75,"y":-0.75,"z":94.5},{"x":-9.25,"y":-0.75,"z":85},{"x":-8.75,"y":-0.75,"z":76},{"x":-8.25,"y":-0.75,"z":67.5},{"x":-7.75,"y":-0.75,"z":59.5},{"x":-7.25,"y":-0.75,"z":52},{"x":-6.75,"y":-0.75,"z":45},{"x":-6.25,"y":-0.75,"z":38.5},{"x":-5.75,"y":-0.75,"z":32.5},{"x":-5.25,"y":-0.75,"z":27},{"x":-4.75,"y":-0.75,"z":22},{"x":-4.25,"y":-0.75,"z":17.5},{"x":-3.75,"y":-0.75,"z":13.5},{"x":-3.25,"y":-0.75,"z":10},{"x":-2.75,"y":-0.75,"z":7},{"x":-2.25,"y":-0.75,"z":4.5},{"x":-1.75,"y":-0.75,"z":2.5},{"x":-1.25,"y":-0.75,"z":1},{"x":-0.75,"y":-0.75,"z":0},{"x":-0.25,"y":-0.75,"z":-0.5},{"x":0.25,"y":-0.75,"z":-0.5},{"x":0.75,"y":-0.75,"z":0},{"x":1.25,"y":-0.75,"z":1},{"x":1.75,"y":-0.75,"z":2.5},{"x":2.25,"y":-0.75,"z":4.5},{"x":2.75,"y":-0.75,"z":7},{"x":3.25,"y":-0.75,"z":10},{"x":3.75,"y":-0.75,"z":13.5},{"x":4.25,"y":-0.75,"z":17.5},{"x":4.75,"y":-0.75,"z":22},{"x":5.25,"y":-0.75,"z":27},{"x":5.75,"y":-0.75,"z":32.5},{"x":6.25,"y":-0.75,"z":38.5},{"x":6.75,"y":-0.75,"z":45},{"x":7.25,"y":-0.75,"z":52},{"x":7.75,"y":-0.75,"z":59.5},{"x":8.25,"y":-0.75,"z":67.5},{"x":8.75,"y":-0.75,"z":76},{"x":9.25,"y":-0.75,"z":85},{"x":9.75,"y":-0.75,"z":94.5},
{"x":-9.75,"y":-1.25,"z":93.5},{"x":-9.25,"y":-1.25,"z":84},{"x":-8.75,"y":-1.25,"z":75},{"x":-8.25,"y":-1.25,"z":66.5},{"x":-7.75,"y":-1.25,"z":58.5},{"x":-7.25,"y":-1.25,"z":51},{"x":-6.75,"y":-1.25,"z":44},{"x":-6.25,"y":-1.25,"z":37.5},{"x":-5.75,"y":-1.25,"z":31.5},{"x":-5.25,"y":-1.25,"z":26},{"x":-4.75,"y":-1.25,"z":21},{"x":-4.25,"y":-1.25,"z":16.5},{"x":-3.75,"y":-1.25,"z":12.5},{"x":-3.25,"y":-1.25,"z":9},{"x":-2.75,"y":-1.25,"z":6},{"x":-2.25,"y":-1.25,"z":3.5},{"x":-1.75,"y":-1.25,"z":1.5},{"x":-1.25,"y":-1.25,"z":0},{"x":-0.75,"y":-1.25,"z":-1},{"x":-0.25,"y":-1.25,"z":-1.5},{"x":0.25,"y":-1.25,"z":-1.5},{"x":0.75,"y":-1.25,"z":-1},{"x":1.25,"y":-1.25,"z":0},{"x":1.75,"y":-1.25,"z":1.5},{"x":2.25,"y":-1.25,"z":3.5},{"x":2.75,"y":-1.25,"z":6},{"x":3.25,"y":-1.25,"z":9},{"x":3.75,"y":-1.25,"z":12.5},{"x":4.25,"y":-1.25,"z":16.5},{"x":4.75,"y":-1.25,"z":21},{"x":5.25,"y":-1.25,"z":26},{"x":5.75,"y":-1.25,"z":31.5},{"x":6.25,"y":-1.25,"z":37.5},{"x":6.75,"y":-1.25,"z":44},{"x":7.25,"y":-1.25,"z":51},{"x":7.75,"y":-1.25,"z":58.5},{"x":8.25,"y":-1.25,"z":66.5},{"x":8.75,"y":-1.25,"z":75},{"x":9.25,"y":-1.25,"z":84},{"x":9.75,"y":-1.25,"z":93.5},
{"x":-9.75,"y":-1.75,"z":92},{"x":-9.25,"y":-1.75,"z":82.5},{"x":-8.75,"y":-1.75,"z":73.5},{"x":-8.25,"y":-1.75,"z":65},{"x":-7.75,"y":-1.75,"z":57},{"x":-7.25,"y":-1.75,"z":49.5},{"x":-6.75,"y":-1.75,"z":42.5},{"x":-6.25,"y":-1.75,"z":36},{"x":-5.75,"y":-1.75,"z":30},{"x":-5.25,"y":-1.75,"z":24.5},{"x":-4.75,"y":-1.75,"z":19.5},{"x":-4.25,"y":-1.75,"z":15},{"x":-3.75,"y":-1.75,"z":11},{"x":-3.25,"y":-1.75,"z":7.5},{"x":-2.75,"y":-1.75,"z":4.5},{"x":-2.25,"y":-1.75,"z":2},{"x":-1.75,"y":-1.75,"z":0},{"x":-1.25,"y":-1.75,"z":-1.5},{"x":-0.75,"y":-1.75,"z":-2.5},{"x":-0.25,"y":-1.75,"z":-3},{"x":0.25,"y":-1.75,"z":-3},{"x":0.75,"y":-1.75,"z":-2.5},{"x":1.25,"y":-1.75,"z":-1.5},{"x":1.75,"y":-1.75,"z":0},{"x":2.25,"y":-1.75,"z":2},{"x":2.75,"y":-1.75,"z":4.5},{"x":3.25,"y":-1.75,"z":7.5},{"x":3.75,"y":-1.75,"z":11},{"x":4.25,"y":-1.75,"z":15},{"x":4.75,"y":-1.75,"z":19.5},{"x":5.25,"y":-1.75,"z":24.5},{"x":5.75,"y":-1.75,"z":30},{"x":6.25,"y":-1.75,"z":36},{"x":6.75,"y":-1.75,"z":42.5},{"x":7.25,"y":-1.75,"z":49.5},{"x":7.75,"y":-1.75,"z":57},{"x":8.25,"y":-1.75,"z":65},{"x":8.75,"y":-1.75,"z":73.5},{"x":9.25,"y":-1.75,"z":82.5},{"x":9.75,"y":-1.75,"z":92},
{"x":-9.75,"y":-2.25,"z":90},{"x":-9.25,"y":-2.25,"z":80.5},{"x":-8.75,"y":-2.25,"z":71.5},{"x":-8.25,"y":-2.25,"z":63},{"x":-7.75,"y":-2.25,"z":55},{"x":-7.25,"y":-2.25,"z":47.5},{"x":-6.75,"y":-2.25,"z":40.5},{"x":-6.25,"y":-2.25,"z":34},{"x":-5.75,"y":-2.25,"z":28},{"x":-5.25,"y":-2.25,"z":22.5},{"x":-4.75,"y":-2.25,"z":17.5},{"x":-4.25,"y":-2.25,"z":13},{"x":-3.75,"y":-2.25,"z":9},{"x":-3.25,"y":-2.25,"z":5.5},{"x":-2.75,"y":-2.25,"z":2.5},{"x":-2.25,"y":-2.25,"z":0},{"x":-1.75,"y":-2.25,"z":-2},{"x":-1.25,"y":-2.25,"z":-3.5},{"x":-0.75,"y":-2.25,"z":-4.5},{"x":-0.25,"y":-2.25,"z":-5},{"x":0.25,"y":-2.25,"z":-5},{"x":0.75,"y":-2.25,"z":-4.5},{"x":1.25,"y":-2.25,"z":-3.5},{"x":1.75,"y":-2.25,"z":-2},{"x":2.25,"y":-2.25,"z":0},{"x":2.75,"y":-2.25,"z":2.5},{"x":3.25,"y":-2.25,"z":5.5},{"x":3.75,"y":-2.25,"z":9},{"x":4.25,"y":-2.25,"z":13},{"x":4.75,"y":-2.25,"z":17.5},{"x":5.25,"y":-2.25,"z":22.5},{"x":5.75,"y":-2.25,"z":28},{"x":6.25,"y":-2.25,"z":34},{"x":6.75,"y":-2.25,"z":40.5},{"x":7.25,"y":-2.25,"z":47.5},{"x":7.75,"y":-2.25,"z":55},{"x":8.25,"y":-2.25,"z":63},{"x":8.75,"y":-2.25,"z":71.5},{"x":9.25,"y":-2.25,"z":80.5},{"x":9.75,"y":-2.25,"z":90},
{"x":-9.75,"y":-2.75,"z":87.5},{"x":-9.25,"y":-2.75,"z":78},{"x":-8.75,"y":-2.75,"z":69},{"x":-8.25,"y":-2.75,"z":60.5},{"x":-7.75,"y":-2.75,"z":52.5},{"x":-7.25,"y":-2.75,"z":45},{"x":-6.75,"y":-2.75,"z":38},{"x":-6.25,"y":-2.75,"z":31.5},{"x":-5.75,"y":-2.75,"z":25.5},{"x":-5.25,"y":-2.75,"z":20},{"x":-4.75,"y":-2.75,"z":15},{"x":-4.25,"y":-2.75,"z":10.5},{"x":-3.75,"y":-2.75,"z":6.5},{"x":-3.25,"y":-2.75,"z":3},{"x":-2.75,"y":-2.75,"z":0},{"x":-2.25,"y":-2.75,"z":-2.5},{"x":-1.75,"y":-2.75,"z":-4.5},{"x":-1.25,"y":-2.75,"z":-6},{"x":-0.75,"y":-2.75,"z":-7},{"x":-0.25,"y":-2.75,"z":-7.5},{"x":0.25,"y":-2.75,"z":-7.5},{"x":0.75,"y":-2.75,"z":-7},{"x":1.25,"y":-2.75,"z":-6},{"x":1.75,"y":-2.75,"z":-4.5},{"x":2.25,"y":-2.75,"z":-2.5},{"x":2.75,"y":-2.75,"z":0},{"x":3.25,"y":-2.75,"z":3},{"x":3.75,"y":-2.75,"z":6.5},{"x":4.25,"y":-2.75,"z":10.5},{"x":4.75,"y":-2.75,"z":15},{"x":5.25,"y":-2.75,"z":20},{"x":5.75,"y":-2.75,"z":25.5},{"x":6.25,"y":-2.75,"z":31.5},{"x":6.75,"y":-2.75,"z":38},{"x":7.25,"y":-2.75,"z":45},{"x":7.75,"y":-2.75,"z":52.5},{"x":8.25,"y":-2.75,"z":60.5},{"x":8.75,"y":-2.75,"z":69},{"x":9.25,"y":-2.75,"z":78},{"x":9.75,"y":-2.75,"z":87.5},
{"x":-9.75,"y":-3.25,"z":84.5},{"x":-9.25,"y":-3.25,"z":75},{"x":-8.75,"y":-3.25,"z":66},{"x":-8.25,"y":-3.25,"z":57.5},{"x":-7.75,"y":-3.25,"z":49.5},{"x":-7.25,"y":-3.25,"z":42},{"x":-6.75,"y":-3.25,"z":35},{"x":-6.25,"y":-3.25,"z":28.5},{"x":-5.75,"y":-3.25,"z":22.5},{"x":-5.25,"y":-3.25,"z":17},{"x":-4.75,"y":-3.25,"z":12},{"x":-4.25,"y":-3.25,"z":7.5},{"x":-3.75,"y":-3.25,"z":3.5},{"x":-3.25,"y":-3.25,"z":0},{"x":-2.75,"y":-3.25,"z":-3},{"x":-2.25,"y":-3.25,"z":-5.5},{"x":-1.75,"y":-3.25,"z":-7.5},{"x":-1.25,"y":-3.25,"z":-9},{"x":-0.75,"y":-3.25,"z":-10},{"x":-0.25,"y":-3.25,"z":-10.5},{"x":0.25,"y":-3.25,"z":-10.5},{"x":0.75,"y":-3.25,"z":-10},{"x":1.25,"y":-3.25,"z":-9},{"x":1.75,"y":-3.25,"z":-7.5},{"x":2.25,"y":-3.25,"z":-5.5},{"x":2.75,"y":-3.25,"z":-3},{"x":3.25,"y":-3.25,"z":0},{"x":3.75,"y":-3.25,"z":3.5},{"x":4.25,"y":-3.25,"z":7.5},{"x":4.75,"y":-3.25,"z":12},{"x":5.25,"y":-3.25,"z":17},{"x":5.75,"y":-3.25,"z":22.5},{"x":6.25,"y":-3.25,"z":28.5},{"x":6.75,"y":-3.25,"z":35},{"x":7.25,"y":-3.25,"z":42},{"x":7.75,"y":-3.25,"z":49.5},{"x":8.25,"y":-3.25,"z":57.5},{"x":8.75,"y":-3.25,"z":66},{"x":9.25,"y":-3.25,"z":75},{"x":9.75,"y":-3.25,"z":84.5},
{"x":-9.75,"y":-3.75,"z":81},{"x":-9.25,"y":-3.75,"z":71.5},{"x":-8.75,"y":-3.75,"z":62.5},{"x":-8.25,"y":-3.75,"z":54},{"x":-7.75,"y":-3.75,"z":46},{"x":-7.25,"y":-3.75,"z":38.5},{"x":-6.75,"y":-3.75,"z":31.5},{"x":-6.25,"y":-3.75,"z":25},{"x":-5.75,"y":-3.75,"z":19},{"x":-5.25,"y":-3.75,"z":13.5},{"x":-4.75,"y":-3.75,"z":8.5},{"x":-4.25,"y":-3.75,"z":4},{"x":-3.75,"y":-3.75,"z":0},{"x":-3.25,"y":-3.75,"z":-3.5},{"x":-2.75,"y":-3.75,"z":-6.5},{"x":-2.25,"y":-3.75,"z":-9},{"x":-1.75,"y":-3.75,"z":-11},{"x":-1.25,"y":-3.75,"z":-12.5},{"x":-0.75,"y":-3.75,"z":-13.5},{"x":-0.25,"y":-3.75,"z":-14},{"x":0.25,"y":-3.75,"z":-14},{"x":0.75,"y":-3.75,"z":-13.5},{"x":1.25,"y":-3.75,"z":-12.5},{"x":1.75,"y":-3.75,"z":-11},{"x":2.25,"y":-3.75,"z":-9},{"x":2.75,"y":-3.75,"z":-6.5},{"x":3.25,"y":-3.75,"z":-3.5},{"x":3.75,"y":-3.75,"z":0},{"x":4.25,"y":-3.75,"z":4},{"x":4.75,"y":-3.75,"z":8.5},{"x":5.25,"y":-3.75,"z":13.5},{"x":5.75,"y":-3.75,"z":19},{"x":6.25,"y":-3.75,"z":25},{"x":6.75,"y":-3.75,"z":31.5},{"x":7.25,"y":-3.75,"z":38.5},{"x":7.75,"y":-3.75,"z":46},{"x":8.25,"y":-3.75,"z":54},{"x":8.75,"y":-3.75,"z":62.5},{"x":9.25,"y":-3.75,"z":71.5},{"x":9.75,"y":-3.75,"z":81},
{"x":-9.75,"y":-4.25,"z":77},{"x":-9.25,"y":-4.25,"z":67.5},{"x":-8.75,"y":-4.25,"z":58.5},{"x":-8.25,"y":-4.25,"z":50},{"x":-7.75,"y":-4.25,"z":42},{"x":-7.25,"y":-4.25,"z":34.5},{"x":-6.75,"y":-4.25,"z":27.5},{"x":-6.25,"y":-4.25,"z":21},{"x":-5.75,"y":-4.25,"z":15},{"x":-5.25,"y":-4.25,"z":9.5},{"x":-4.75,"y":-4.25,"z":4.5},{"x":-4.25,"y":-4.25,"z":0},{"x":-3.75,"y":-4.25,"z":-4},{"x":-3.25,"y":-4.25,"z":-7.5},{"x":-2.75,"y":-4.25,"z":-10.5},{"x":-2.25,"y":-4.25,"z":-13},{"x":-1.75,"y":-4.25,"z":-15},{"x":-1.25,"y":-4.25,"z":-16.5},{"x":-0.75,"y":-4.25,"z":-17.5},{"x":-0.25,"y":-4.25,"z":-18},{"x":0.25,"y":-4.25,"z":-18},{"x":0.75,"y":-4.25,"z":-17.5},{"x":1.25,"y":-4.25,"z":-16.5},{"x":1.75,"y":-4.25,"z":-15},{"x":2.25,"y":-4.25,"z":-13},{"x":2.75,"y":-4.25,"z":-10.5},{"x":3.25,"y":-4.25,"z":-7.5},{"x":3.75,"y":-4.25,"z":-4},{"x":4.25,"y":-4.25,"z":0},{"x":4.75,"y":-4.25,"z":4.5},{"x":5.25,"y":-4.25,"z":9.5},{"x":5.75,"y":-4.25,"z":15},{"x":6.25,"y":-4.25,"z":21},{"x":6.75,"y":-4.25,"z":27.5},{"x":7.25,"y":-4.25,"z":34.5},{"x":7.75,"y":-4.25,"z":42},{"x":8.25,"y":-4.25,"z":50},{"x":8.75,"y":-4.25,"z":58.5},{"x":9.25,"y":-4.25,"z":67.5},{"x":9.75,"y":-4.25,"z":77},
{"x":-9.75,"y":-4.75,"z":72.5},{"x":-9.25,"y":-4.75,"z":63},{"x":-8.75,"y":-4.75,"z":54},{"x":-8.25,"y":-4.75,"z":45.5},{"x":-7.75,"y":-4.75,"z":37.5},{"x":-7.25,"y":-4.75,"z":30},{"x":-6.75,"y":-4.75,"z":23},{"x":-6.25,"y":-4.75,"z":16.5},{"x":-5.75,"y":-4.75,"z":10.5},{"x":-5.25,"y":-4.75,"z":5},{"x":-4.75,"y":-4.75,"z":0},{"x":-4.25,"y":-4.75,"z":-4.5},{"x":-3.75,"y":-4.75,"z":-8.5},{"x":-3.25,"y":-4.75,"z":-12},{"x":-2.75,"y":-4.75,"z":-15},{"x":-2.25,"y":-4.75,"z":-17.5},{"x":-1.75,"y":-4.75,"z":-19.5},{"x":-1.25,"y":-4.75,"z":-21},{"x":-0.75,"y":-4.75,"z":-22},{"x":-0.25,"y":-4.75,"z":-22.5},{"x":0.25,"y":-4.75,"z":-22.5},{"x":0.75,"y":-4.75,"z":-22},{"x":1.25,"y":-4.75,"z":-21},{"x":1.75,"y":-4.75,"z":-19.5},{"x":2.25,"y":-4.75,"z":-17.5},{"x":2.75,"y":-4.75,"z":-15},{"x":3.25,"y":-4.75,"z":-12},{"x":3.75,"y":-4.75,"z":-8.5},{"x":4.25,"y":-4.75,"z":-4.5},{"x":4.75,"y":-4.75,"z":0},{"x":5.25,"y":-4.75,"z":5},{"x":5.75,"y":-4.75,"z":10.5},{"x":6.25,"y":-4.75,"z":16.5},{"x":6.75,"y":-4.75,"z":23},{"x":7.25,"y":-4.75,"z":30},{"x":7.75,"y":-4.75,"z":37.5},{"x":8.25,"y":-4.75,"z":45.5},{"x":8.75,"y":-4.75,"z":54},{"x":9.25,"y":-4.75,"z":63},{"x":9.75,"y":-4.75,"z":72.5},
{"x":-9.75,"y":-5.25,"z":67.5},{"x":-9.25,"y":-5.25,"z":58},{"x":-8.75,"y":-5.25,"z":49},{"x":-8.25,"y":-5.25,"z":40.5},{"x":-7.75,"y":-5.25,"z":32.5},{"x":-7.25,"y":-5.25,"z":25},{"x":-6.75,"y":-5.25,"z":18},{"x":-6.25,"y":-5.25,"z":11.5},{"x":-5.75,"y":-5.25,"z":5.5},{"x":-5.25,"y":-5.25,"z":0},{"x":-4.75,"y":-5.25,"z":-5},{"x":-4.25,"y":-5.25,"z":-9.5},{"x":-3.75,"y":-5.25,"z":-13.5},{"x":-3.25,"y":-5.25,"z":-17},{"x":-2.75,"y":-5.25,"z":-20},{"x":-2.25,"y":-5.25,"z":-22.5},{"x":-1.75,"y":-5.25,"z":-24.5},{"x":-1.25,"y":-5.25,"z":-26},{"x":-0.75,"y":-5.25,"z":-27},{"x":-0.25,"y":-5.25,"z":-27.5},{"x":0.25,"y":-5.25,"z":-27.5},{"x":0.75,"y":-5.25,"z":-27},{"x":1.25,"y":-5.25,"z":-26},{"x":1.75,"y":-5.25,"z":-24.5},{"x":2.25,"y":-5.25,"z":-22.5},{"x":2.75,"y":-5.25,"z":-20},{"x":3.25,"y":-5.25,"z":-17},{"x":3.75,"y":-5.25,"z":-13.5},{"x":4.25,"y":-5.25,"z":-9.5},{"x":4.75,"y":-5.25,"z":-5},{"x":5.25,"y":-5.25,"z":0},{"x":5.75,"y":-5.25,"z":5.5},{"x":6.25,"y":-5.25,"z":11.5},{"x":6.75,"y":-5.25,"z":18},{"x":7.25,"y":-5.25,"z":25},{"x":7.75,"y":-5.25,"z":32.5},{"x":8.25,"y":-5.25,"z":40.5},{"x":8.75,"y":-5.25,"z":49},{"x":9.25,"y":-5.25,"z":58},{"x":9.75,"y":-5.25,"z":67.5},
{"x":-9.75,"y":-5.75,"z":62},{"x":-9.25,"y":-5.75,"z":52.5},{"x":-8.75,"y":-5.75,"z":43.5},{"x":-8.25,"y":-5.75,"z":35},{"x":-7.75,"y":-5.75,"z":27},{"x":-7.25,"y":-5.75,"z":19.5},{"x":-6.75,"y":-5.75,"z":12.5},{"x":-6.25,"y":-5.75,"z":6},{"x":-5.75,"y":-5.75,"z":0},{"x":-5.25,"y":-5.75,"z":-5.5},{"x":-4.75,"y":-5.75,"z":-10.5},{"x":-4.25,"y":-5.75,"z":-15},{"x":-3.75,"y":-5.75,"z":-19},{"x":-3.25,"y":-5.75,"z":-22.5},{"x":-2.75,"y":-5.75,"z":-25.5},{"x":-2.25,"y":-5.75,"z":-28},{"x":-1.75,"y":-5.75,"z":-30},{"x":-1.25,"y":-5.75,"z":-31.5},{"x":-0.75,"y":-5.75,"z":-32.5},{"x":-0.25,"y":-5.75,"z":-33},{"x":0.25,"y":-5.75,"z":-33},{"x":0.75,"y":-5.75,"z":-32.5},{"x":1.25,"y":-5.75,"z":-31.5},{"x":1.75,"y":-5.75,"z":-30},{"x":2.25,"y":-5.75,"z":-28},{"x":2.75,"y":-5.75,"z":-25.5},{"x":3.25,"y":-5.75,"z":-22.5},{"x":3.75,"y":-5.75,"z":-19},{"x":4.25,"y":-5.75,"z":-15},{"x":4.75,"y":-5.75,"z":-10.5},{"x":5.25,"y":-5.75,"z":-5.5},{"x":5.75,"y":-5.75,"z":0},{"x":6.25,"y":-5.75,"z":6},{"x":6.75,"y":-5.75,"z":12.5},{"x":7.25,"y":-5.75,"z":19.5},{"x":7.75,"y":-5.75,"z":27},{"x":8.25,"y":-5.75,"z":35},{"x":8.75,"y":-5.75,"z":43.5},{"x":9.25,"y":-5.75,"z":52.5},{"x":9.75,"y":-5.75,"z":62},
{"x":-9.75,"y":-6.25,"z":56},{"x":-9.25,"y":-6.25,"z":46.5},{"x":-8.75,"y":-6.25,"z":37.5},{"x":-8.25,"y":-6.25,"z":29},{"x":-7.75,"y":-6.25,"z":21},{"x":-7.25,"y":-6.25,"z":13.5},{"x":-6.75,"y":-6.25,"z":6.5},{"x":-6.25,"y":-6.25,"z":0},{"x":-5.75,"y":-6.25,"z":-6},{"x":-5.25,"y":-6.25,"z":-11.5},{"x":-4.75,"y":-6.25,"z":-16.5},{"x":-4.25,"y":-6.25,"z":-21},{"x":-3.75,"y":-6.25,"z":-25},{"x":-3.25,"y":-6.25,"z":-28.5},{"x":-2.75,"y":-6.25,"z":-31.5},{"x":-2.25,"y":-6.25,"z":-34},{"x":-1.75,"y":-6.25,"z":-36},{"x":-1.25,"y":-6.25,"z":-37.5},{"x":-0.75,"y":-6.25,"z":-38.5},{"x":-0.25,"y":-6.25,"z":-39},{"x":0.25,"y":-6.25,"z":-39},{"x":0.75,"y":-6.25,"z":-38.5},{"x":1.25,"y":-6.25,"z":-37.5},{"x":1.75,"y":-6.25,"z":-36},{"x":2.25,"y":-6.25,"z":-34},{"x":2.75,"y":-6.25,"z":-31.5},{"x":3.25,"y":-6.25,"z":-28.5},{"x":3.75,"y":-6.25,"z":-25},{"x":4.25,"y":-6.25,"z":-21},{"x":4.75,"y":-6.25,"z":-16.5},{"x":5.25,"y":-6.25,"z":-11.5},{"x":5.75,"y":-6.25,"z":-6},{"x":6.25,"y":-6.25,"z":0},{"x":6.75,"y":-6.25,"z":6.5},{"x":7.25,"y":-6.25,"z":13.5},{"x":7.75,"y":-6.25,"z":21},{"x":8.25,"y":-6.25,"z":29},{"x":8.75,"y":-6.25,"z":37.5},{"x":9.25,"y":-6.25,"z":46.5},{"x":9.75,"y":-6.25,"z":56},
{"x":-9.75,"y":-6.75,"z":49.5},{"x":-9.25,"y":-6.75,"z":40},{"x":-8.75,"y":-6.75,"z":31},{"x":-8.25,"y":-6.75,"z":22.5},{"x":-7.75,"y":-6.75,"z":14.5},{"x":-7.25,"y":-6.75,"z":7},{"x":-6.75,"y":-6.75,"z":0},{"x":-6.25,"y":-6.75,"z":-6.5},{"x":-5.75,"y":-6.75,"z":-12.5},{"x":-5.25,"y":-6.75,"z":-18},{"x":-4.75,"y":-6.75,"z":-23},{"x":-4.25,"y":-6.75,"z":-27.5},{"x":-3.75,"y":-6.75,"z":-31.5},{"x":-3.25,"y":-6.75,"z":-35},{"x":-2.75,"y":-6.75,"z":-38},{"x":-2.25,"y":-6.75,"z":-40.5},{"x":-1.75,"y":-6.75,"z":-42.5},{"x":-1.25,"y":-6.75,"z":-44},{"x":-0.75,"y":-6.75,"z":-45},{"x":-0.25,"y":-6.75,"z":-45.5},{"x":0.25,"y":-6.75,"z":-45.5},{"x":0.75,"y":-6.75,"z":-45},{"x":1.25,"y":-6.75,"z":-44},{"x":1.75,"y":-6.75,"z":-42.5},{"x":2.25,"y":-6.75,"z":-40.5},{"x":2.75,"y":-6.75,"z":-38},{"x":3.25,"y":-6.75,"z":-35},{"x":3.75,"y":-6.75,"z":-31.5},{"x":4.25,"y":-6.75,"z":-27.5},{"x":4.75,"y":-6.75,"z":-23},{"x":5.25,"y":-6.75,"z":-18},{"x":5.75,"y":-6.75,"z":-12.5},{"x":6.25,"y":-6.75,"z":-6.5},{"x":6.75,"y":-6.75,"z":0},{"x":7.25,"y":-6.75,"z":7},{"x":7.75,"y":-6.75,"z":14.5},{"x":8.25,"y":-6.75,"z":22.5},{"x":8.75,"y":-6.75,"z":31},{"x":9.25,"y":-6.75,"z":40},{"x":9.75,"y":-6.75,"z":49.5},
{"x":-9.75,"y":-7.25,"z":42.5},{"x":-9.25,"y":-7.25,"z":33},{"x":-8.75,"y":-7.25,"z":24},{"x":-8.25,"y":-7.25,"z":15.5},{"x":-7.75,"y":-7.25,"z":7.5},{"x":-7.25,"y":-7.25,"z":0},{"x":-6.75,"y":-7.25,"z":-7},{"x":-6.25,"y":-7.25,"z":-13.5},{"x":-5.75,"y":-7.25,"z":-19.5},{"x":-5.25,"y":-7.25,"z":-25},{"x":-4.75,"y":-7.25,"z":-30},{"x":-4.25,"y":-7.25,"z":-34.5},{"x":-3.75,"y":-7.25,"z":-38.5},{"x":-3.25,"y":-7.25,"z":-42},{"x":-2.75,"y":-7.25,"z":-45},{"x":-2.25,"y":-7.25,"z":-47.5},{"x":-1.75,"y":-7.25,"z":-49.5},{"x":-1.25,"y":-7.25,"z":-51},{"x":-0.75,"y":-7.25,"z":-52},{"x":-0.25,"y":-7.25,"z":-52.5},{"x":0.25,"y":-7.25,"z":-52.5},{"x":0.75,"y":-7.25,"z":-52},{"x":1.25,"y":-7.25,"z":-51},{"x":1.75,"y":-7.25,"z":-49.5},{"x":2.25,"y":-7.25,"z":-47.5},{"x":2.75,"y":-7.25,"z":-45},{"x":3.25,"y":-7.25,"z":-42},{"x":3.75,"y":-7.25,"z":-38.5},{"x":4.25,"y":-7.25,"z":-34.5},{"x":4.75,"y":-7.25,"z":-30},{"x":5.25,"y":-7.25,"z":-25},{"x":5.75,"y":-7.25,"z":-19.5},{"x":6.25,"y":-7.25,"z":-13.5},{"x":6.75,"y":-7.25,"z":-7},{"x":7.25,"y":-7.25,"z":0},{"x":7.75,"y":-7.25,"z":7.5},{"x":8.25,"y":-7.25,"z":15.5},{"x":8.75,"y":-7.25,"z":24},{"x":9.25,"y":-7.25,"z":33},{"x":9.75,"y":-7.25,"z":42.5},
{"x":-9.75,"y":-7.75,"z":35},{"x":-9.25,"y":-7.75,"z":25.5},{"x":-8.75,"y":-7.75,"z":16.5},{"x":-8.25,"y":-7.75,"z":8},{"x":-7.75,"y":-7.75,"z":0},{"x":-7.25,"y":-7.75,"z":-7.5},{"x":-6.75,"y":-7.75,"z":-14.5},{"x":-6.25,"y":-7.75,"z":-21},{"x":-5.75,"y":-7.75,"z":-27},{"x":-5.25,"y":-7.75,"z":-32.5},{"x":-4.75,"y":-7.75,"z":-37.5},{"x":-4.25,"y":-7.75,"z":-42},{"x":-3.75,"y":-7.75,"z":-46},{"x":-3.25,"y":-7.75,"z":-49.5},{"x":-2.75,"y":-7.75,"z":-52.5},{"x":-2.25,"y":-7.75,"z":-55},{"x":-1.75,"y":-7.75,"z":-57},{"x":-1.25,"y":-7.75,"z":-58.5},{"x":-0.75,"y":-7.75,"z":-59.5},{"x":-0.25,"y":-7.75,"z":-60},{"x":0.25,"y":-7.75,"z":-60},{"x":0.75,"y":-7.75,"z":-59.5},{"x":1.25,"y":-7.75,"z":-58.5},{"x":1.75,"y":-7.75,"z":-57},{"x":2.25,"y":-7.75,"z":-55},{"x":2.75,"y":-7.75,"z":-52.5},{"x":3.25,"y":-7.75,"z":-49.5},{"x":3.75,"y":-7.75,"z":-46},{"x":4.25,"y":-7.75,"z":-42},{"x":4.75,"y":-7.75,"z":-37.5},{"x":5.25,"y":-7.75,"z":-32.5},{"x":5.75,"y":-7.75,"z":-27},{"x":6.25,"y":-7.75,"z":-21},{"x":6.75,"y":-7.75,"z":-14.5},{"x":7.25,"y":-7.75,"z":-7.5},{"x":7.75,"y":-7.75,"z":0},{"x":8.25,"y":-7.75,"z":8},{"x":8.75,"y":-7.75,"z":16.5},{"x":9.25,"y":-7.75,"z":25.5},{"x":9.75,"y":-7.75,"z":35},
{"x":-9.75,"y":-8.25,"z":27},{"x":-9.25,"y":-8.25,"z":17.5},{"x":-8.75,"y":-8.25,"z":8.5},{"x":-8.25,"y":-8.25,"z":0},{"x":-7.75,"y":-8.25,"z":-8},{"x":-7.25,"y":-8.25,"z":-15.5},{"x":-6.75,"y":-8.25,"z":-22.5},{"x":-6.25,"y":-8.25,"z":-29},{"x":-5.75,"y":-8.25,"z":-35},{"x":-5.25,"y":-8.25,"z":-40.5},{"x":-4.75,"y":-8.25,"z":-45.5},{"x":-4.25,"y":-8.25,"z":-50},{"x":-3.75,"y":-8.25,"z":-54},{"x":-3.25,"y":-8.25,"z":-57.5},{"x":-2.75,"y":-8.25,"z":-60.5},{"x":-2.25,"y":-8.25,"z":-63},{"x":-1.75,"y":-8.25,"z":-65},{"x":-1.25,"y":-8.25,"z":-66.5},{"x":-0.75,"y":-8.25,"z":-67.5},{"x":-0.25,"y":-8.25,"z":-68},{"x":0.25,"y":-8.25,"z":-68},{"x":0.75,"y":-8.25,"z":-67.5},{"x":1.25,"y":-8.25,"z":-66.5},{"x":1.75,"y":-8.25,"z":-65},{"x":2.25,"y":-8.25,"z":-63},{"x":2.75,"y":-8.25,"z":-60.5},{"x":3.25,"y":-8.25,"z":-57.5},{"x":3.75,"y":-8.25,"z":-54},{"x":4.25,"y":-8.25,"z":-50},{"x":4.75,"y":-8.25,"z":-45.5},{"x":5.25,"y":-8.25,"z":-40.5},{"x":5.75,"y":-8.25,"z":-35},{"x":6.25,"y":-8.25,"z":-29},{"x":6.75,"y":-8.25,"z":-22.5},{"x":7.25,"y":-8.25,"z":-15.5},{"x":7.75,"y":-8.25,"z":-8},{"x":8.25,"y":-8.25,"z":0},{"x":8.75,"y":-8.25,"z":8.5},{"x":9.25,"y":-8.25,"z":17.5},{"x":9.75,"y":-8.25,"z":27},
{"x":-9.75,"y":-8.75,"z":18.5},{"x":-9.25,"y":-8.75,"z":9},{"x":-8.75,"y":-8.75,"z":0},{"x":-8.25,"y":-8.75,"z":-8.5},{"x":-7.75,"y":-8.75,"z":-16.5},{"x":-7.25,"y":-8.75,"z":-24},{"x":-6.75,"y":-8.75,"z":-31},{"x":-6.25,"y":-8.75,"z":-37.5},{"x":-5.75,"y":-8.75,"z":-43.5},{"x":-5.25,"y":-8.75,"z":-49},{"x":-4.75,"y":-8.75,"z":-54},{"x":-4.25,"y":-8.75,"z":-58.5},{"x":-3.75,"y":-8.75,"z":-62.5},{"x":-3.25,"y":-8.75,"z":-66},{"x":-2.75,"y":-8.75,"z":-69},{"x":-2.25,"y":-8.75,"z":-71.5},{"x":-1.75,"y":-8.75,"z":-73.5},{"x":-1.25,"y":-8.75,"z":-75},{"x":-0.75,"y":-8.75,"z":-76},{"x":-0.25,"y":-8.75,"z":-76.5},{"x":0.25,"y":-8.75,"z":-76.5},{"x":0.75,"y":-8.75,"z":-76},{"x":1.25,"y":-8.75,"z":-75},{"x":1.75,"y":-8.75,"z":-73.5},{"x":2.25,"y":-8.75,"z":-71.5},{"x":2.75,"y":-8.75,"z":-69},{"x":3.25,"y":-8.75,"z":-66},{"x":3.75,"y":-8.75,"z":-62.5},{"x":4.25,"y":-8.75,"z":-58.5},{"x":4.75,"y":-8.75,"z":-54},{"x":5.25,"y":-8.75,"z":-49},{"x":5.75,"y":-8.75,"z":-43.5},{"x":6.25,"y":-8.75,"z":-37.5},{"x":6.75,"y":-8.75,"z":-31},{"x":7.25,"y":-8.75,"z":-24},{"x":7.75,"y":-8.75,"z":-16.5},{"x":8.25,"y":-8.75,"z":-8.5},{"x":8.75,"y":-8.75,"z":0},{"x":9.25,"y":-8.75,"z":9},{"x":9.75,"y":-8.75,"z":18.5},
{"x":-9.75,"y":-9.25,"z":9.5},{"x":-9.25,"y":-9.25,"z":0},{"x":-8.75,"y":-9.25,"z":-9},{"x":-8.25,"y":-9.25,"z":-17.5},{"x":-7.75,"y":-9.25,"z":-25.5},{"x":-7.25,"y":-9.25,"z":-33},{"x":-6.75,"y":-9.25,"z":-40},{"x":-6.25,"y":-9.25,"z":-46.5},{"x":-5.75,"y":-9.25,"z":-52.5},{"x":-5.25,"y":-9.25,"z":-58},{"x":-4.75,"y":-9.25,"z":-63},{"x":-4.25,"y":-9.25,"z":-67.5},{"x":-3.75,"y":-9.25,"z":-71.5},{"x":-3.25,"y":-9.25,"z":-75},{"x":-2.75,"y":-9.25,"z":-78},{"x":-2.25,"y":-9.25,"z":-80.5},{"x":-1.75,"y":-9.25,"z":-82.5},{"x":-1.25,"y":-9.25,"z":-84},{"x":-0.75,"y":-9.25,"z":-85},{"x":-0.25,"y":-9.25,"z":-85.5},{"x":0.25,"y":-9.25,"z":-85.5},{"x":0.75,"y":-9.25,"z":-85},{"x":1.25,"y":-9.25,"z":-84},{"x":1.75,"y":-9.25,"z":-82.5},{"x":2.25,"y":-9.25,"z":-80.5},{"x":2.75,"y":-9.25,"z":-78},{"x":3.25,"y":-9.25,"z":-75},{"x":3.75,"y":-9.25,"z":-71.5},{"x":4.25,"y":-9.25,"z":-67.5},{"x":4.75,"y":-9.25,"z":-63},{"x":5.25,"y":-9.25,"z":-58},{"x":5.75,"y":-9.25,"z":-52.5},{"x":6.25,"y":-9.25,"z":-46.5},{"x":6.75,"y":-9.25,"z":-40},{"x":7.25,"y":-9.25,"z":-33},{"x":7.75,"y":-9.25,"z":-25.5},{"x":8.25,"y":-9.25,"z":-17.5},{"x":8.75,"y":-9.25,"z":-9},{"x":9.25,"y":-9.25,"z":0},{"x":9.75,"y":-9.25,"z":9.5},
{"x":-9.75,"y":-9.75,"z":0},{"x":-9.25,"y":-9.75,"z":-9.5},{"x":-8.75,"y":-9.75,"z":-18.5},{"x":-8.25,"y":-9.75,"z":-27},{"x":-7.75,"y":-9.75,"z":-35},{"x":-7.25,"y":-9.75,"z":-42.5},{"x":-6.75,"y":-9.75,"z":-49.5},{"x":-6.25,"y":-9.75,"z":-56},{"x":-5.75,"y":-9.75,"z":-62},{"x":-5.25,"y":-9.75,"z":-67.5},{"x":-4.75,"y":-9.75,"z":-72.5},{"x":-4.25,"y":-9.75,"z":-77},{"x":-3.75,"y":-9.75,"z":-81},{"x":-3.25,"y":-9.75,"z":-84.5},{"x":-2.75,"y":-9.75,"z":-87.5},{"x":-2.25,"y":-9.75,"z":-90},{"x":-1.75,"y":-9.75,"z":-92},{"x":-1.25,"y":-9.75,"z":-93.5},{"x":-0.75,"y":-9.75,"z":-94.5},{"x":-0.25,"y":-9.75,"z":-95},{"x":0.25,"y":-9.75,"z":-95},{"x":0.75,"y":-9.75,"z":-94.5},{"x":1.25,"y":-9.75,"z":-93.5},{"x":1.75,"y":-9.75,"z":-92},{"x":2.25,"y":-9.75,"z":-90},{"x":2.75,"y":-9.75,"z":-87.5},{"x":3.25,"y":-9.75,"z":-84.5},{"x":3.75,"y":-9.75,"z":-81},{"x":4.25,"y":-9.75,"z":-77},{"x":4.75,"y":-9.75,"z":-72.5},{"x":5.25,"y":-9.75,"z":-67.5},{"x":5.75,"y":-9.75,"z":-62},{"x":6.25,"y":-9.75,"z":-56},{"x":6.75,"y":-9.75,"z":-49.5},{"x":7.25,"y":-9.75,"z":-42.5},{"x":7.75,"y":-9.75,"z":-35},{"x":8.25,"y":-9.75,"z":-27},{"x":8.75,"y":-9.75,"z":-18.5},{"x":9.25,"y":-9.75,"z":-9.5},{"x":9.75,"y":-9.75,"z":0}
],
"cont": [
{"s":"d1","x":-10,"y":-10},{"s":"d1","x":10,"y":10},
{"s":"d2","x":-10,"y":10},{"s":"d2","x":10,"y":-10},
{"s":"r20","x":10,"y":-8.944},{"s":"r20","x":9.605,"y":-8.5},{"s":"r20","x":9.165,"y":-8},{"s":"r20","x":8.307,"y":-7},{"s":"r20","x":7.483,"y":-6},{"s":"r20","x":6.708,"y":-5},{"s":"r20","x":6,"y":-4},{"s":"r20","x":5.385,"y":-3},{"s":"r20","x":4.899,"y":-2},{"s":"r20","x":4.583,"y":-1},{"s":"r20","x":4.472,"y":0},{"s":"r20","x":4.583,"y":1},{"s":"r20","x":4.899,"y":2},{"s":"r20","x":5.385,"y":3},{"s":"r20","x":6,"y":4},{"s":"r20","x":6.708,"y":5},{"s":"r20","x":7.483,"y":6},{"s":"r20","x":8.307,"y":7},{"s":"r20","x":9.165,"y":8},{"s":"r20","x":9.605,"y":8.5},{"s":"r20","x":10,"y":8.944},
{"s":"l20","x":-10,"y":-8.944},{"s":"l20","x":-9.605,"y":-8.5},{"s":"l20","x":-9.165,"y":-8},{"s":"l20","x":-8.307,"y":-7},{"s":"l20","x":-7.483,"y":-6},{"s":"l20","x":-6.708,"y":-5},{"s":"l20","x":-6,"y":-4},{"s":"l20","x":-5.385,"y":-3},{"s":"l20","x":-4.899,"y":-2},{"s":"l20","x":-4.583,"y":-1},{"s":"l20","x":-4.472,"y":0},{"s":"l20","x":-4.583,"y":1},{"s":"l20","x":-4.899,"y":2},{"s":"l20","x":-5.385,"y":3},{"s":"l20","x":-6,"y":4},{"s":"l20","x":-6.708,"y":5},{"s":"l20","x":-7.483,"y":6},{"s":"l20","x":-8.307,"y":7},{"s":"l20","x":-9.165,"y":8},{"s":"l20","x":-9.605,"y":8.5},{"s":"l20","x":-10,"y":8.944},
{"s":"t20","y":10,"x":-8.944},{"s":"t20","y":9.605,"x":-8.5},{"s":"t20","y":9.165,"x":-8},{"s":"t20","y":8.307,"x":-7},{"s":"t20","y":7.483,"x":-6},{"s":"t20","y":6.708,"x":-5},{"s":"t20","y":6,"x":-4},{"s":"t20","y":5.385,"x":-3},{"s":"t20","y":4.899,"x":-2},{"s":"t20","y":4.583,"x":-1},{"s":"t20","y":4.472,"x":0},{"s":"t20","y":4.583,"x":1},{"s":"t20","y":4.899,"x":2},{"s":"t20","y":5.385,"x":3},{"s":"t20","y":6,"x":4},{"s":"t20","y":6.708,"x":5},{"s":"t20","y":7.483,"x":6},{"s":"t20","y":8.307,"x":7},{"s":"t20","y":9.165,"x":8},{"s":"t20","y":9.605,"x":8.5},{"s":"t20","y":10,"x":8.944},
{"s":"b20","y":-10,"x":-8.944},{"s":"b20","y":-9.605,"x":-8.5},{"s":"b20","y":-9.165,"x":-8},{"s":"b20","y":-8.307,"x":-7},{"s":"b20","y":-7.483,"x":-6},{"s":"b20","y":-6.708,"x":-5},{"s":"b20","y":-6,"x":-4},{"s":"b20","y":-5.385,"x":-3},{"s":"b20","y":-4.899,"x":-2},{"s":"b20","y":-4.583,"x":-1},{"s":"b20","y":-4.472,"x":0},{"s":"b20","y":-4.583,"x":1},{"s":"b20","y":-4.899,"x":2},{"s":"b20","y":-5.385,"x":3},{"s":"b20","y":-6,"x":4},{"s":"b20","y":-6.708,"x":5},{"s":"b20","y":-7.483,"x":6},{"s":"b20","y":-8.307,"x":7},{"s":"b20","y":-9.165,"x":8},{"s":"b20","y":-9.605,"x":8.5},{"s":"b20","y":-10,"x":8.944},
{"s":"r40","x":10,"y":-7.746},{"s":"r40","x":9.811,"y":-7.5},{"s":"r40","x":9.434,"y":-7},{"s":"r40","x":8.718,"y":-6},{"s":"r40","x":8.062,"y":-5},{"s":"r40","x":7.483,"y":-4},{"s":"r40","x":7,"y":-3},{"s":"r40","x":6.633,"y":-2},{"s":"r40","x":6.403,"y":-1},{"s":"r40","x":6.325,"y":0},{"s":"r40","x":6.403,"y":1},{"s":"r40","x":6.633,"y":2},{"s":"r40","x":7,"y":3},{"s":"r40","x":7.483,"y":4},{"s":"r40","x":8.062,"y":5},{"s":"r40","x":8.718,"y":6},{"s":"r40","x":9.434,"y":7},{"s":"r40","x":9.811,"y":7.5},{"s":"r40","x":10,"y":7.746},
{"s":"l40","x":-10,"y":-7.746},{"s":"l40","x":-9.811,"y":-7.5},{"s":"l40","x":-9.434,"y":-7},{"s":"l40","x":-8.718,"y":-6},{"s":"l40","x":-8.062,"y":-5},{"s":"l40","x":-7.483,"y":-4},{"s":"l40","x":-7,"y":-3},{"s":"l40","x":-6.633,"y":-2},{"s":"l40","x":-6.403,"y":-1},{"s":"l40","x":-6.325,"y":0},{"s":"l40","x":-6.403,"y":1},{"s":"l40","x":-6.633,"y":2},{"s":"l40","x":-7,"y":3},{"s":"l40","x":-7.483,"y":4},{"s":"l40","x":-8.062,"y":5},{"s":"l40","x":-8.718,"y":6},{"s":"l40","x":-9.434,"y":7},{"s":"l40","x":-9.811,"y":7.5},{"s":"l40","x":-10,"y":7.746},
{"s":"t40","y":10,"x":-7.746},{"s":"t40","y":9.811,"x":-7.5},{"s":"t40","y":9.434,"x":-7},{"s":"t40","y":8.718,"x":-6},{"s":"t40","y":8.062,"x":-5},{"s":"t40","y":7.483,"x":-4},{"s":"t40","y":7,"x":-3},{"s":"t40","y":6.633,"x":-2},{"s":"t40","y":6.403,"x":-1},{"s":"t40","y":6.325,"x":0},{"s":"t40","y":6.403,"x":1},{"s":"t40","y":6.633,"x":2},{"s":"t40","y":7,"x":3},{"s":"t40","y":7.483,"x":4},{"s":"t40","y":8.062,"x":5},{"s":"t40","y":8.718,"x":6},{"s":"t40","y":9.434,"x":7},{"s":"t40","y":9.811,"x":7.5},{"s":"t40","y":10,"x":7.746},
{"s":"b40","y":-10,"x":-7.746},{"s":"b40","y":-9.811,"x":-7.5},{"s":"b40","y":-9.434,"x":-7},{"s":"b40","y":-8.718,"x":-6},{"s":"b40","y":-8.062,"x":-5},{"s":"b40","y":-7.483,"x":-4},{"s":"b40","y":-7,"x":-3},{"s":"b40","y":-6.633,"x":-2},{"s":"b40","y":-6.403,"x":-1},{"s":"b40","y":-6.325,"x":0},{"s":"b40","y":-6.403,"x":1},{"s":"b40","y":-6.633,"x":2},{"s":"b40","y":-7,"x":3},{"s":"b40","y":-7.483,"x":4},{"s":"b40","y":-8.062,"x":5},{"s":"b40","y":-8.718,"x":6},{"s":"b40","y":-9.434,"x":7},{"s":"b40","y":-9.811,"x":7.5},{"s":"b40","y":-10,"x":7.746},
{"s":"r60","x":10,"y":-6.325},{"s":"r60","x":9.798,"y":-6},{"s":"r60","x":9.22,"y":-5},{"s":"r60","x":8.718,"y":-4},{"s":"r60","x":8.307,"y":-3},{"s":"r60","x":8,"y":-2},{"s":"r60","x":7.81,"y":-1},{"s":"r60","x":7.746,"y":0},{"s":"r60","x":7.81,"y":1},{"s":"r60","x":8,"y":2},{"s":"r60","x":8.307,"y":3},{"s":"r60","x":8.718,"y":4},{"s":"r60","x":9.22,"y":5},{"s":"r60","x":9.798,"y":6},{"s":"r60","x":10,"y":6.325},
{"s":"l60","x":-10,"y":-6.325},{"s":"l60","x":-9.798,"y":-6},{"s":"l60","x":-9.22,"y":-5},{"s":"l60","x":-8.718,"y":-4},{"s":"l60","x":-8.307,"y":-3},{"s":"l60","x":-8,"y":-2},{"s":"l60","x":-7.81,"y":-1},{"s":"l60","x":-7.746,"y":0},{"s":"l60","x":-7.81,"y":1},{"s":"l60","x":-8,"y":2},{"s":"l60","x":-8.307,"y":3},{"s":"l60","x":-8.718,"y":4},{"s":"l60","x":-9.22,"y":5},{"s":"l60","x":-9.798,"y":6},{"s":"l60","x":-10,"y":6.325},
{"s":"t60","y":10,"x":-6.325},{"s":"t60","y":9.798,"x":-6},{"s":"t60","y":9.22,"x":-5},{"s":"t60","y":8.718,"x":-4},{"s":"t60","y":8.307,"x":-3},{"s":"t60","y":8,"x":-2},{"s":"t60","y":7.81,"x":-1},{"s":"t60","y":7.746,"x":0},{"s":"t60","y":7.81,"x":1},{"s":"t60","y":8,"x":2},{"s":"t60","y":8.307,"x":3},{"s":"t60","y":8.718,"x":4},{"s":"t60","y":9.22,"x":5},{"s":"t60","y":9.798,"x":6},{"s":"t60","y":10,"x":6.325},
{"s":"b60","y":-10,"x":-6.325},{"s":"b60","y":-9.798,"x":-6},{"s":"b60","y":-9.22,"x":-5},{"s":"b60","y":-8.718,"x":-4},{"s":"b60","y":-8.307,"x":-3},{"s":"b60","y":-8,"x":-2},{"s":"b60","y":-7.81,"x":-1},{"s":"b60","y":-7.746,"x":0},{"s":"b60","y":-7.81,"x":1},{"s":"b60","y":-8,"x":2},{"s":"b60","y":-8.307,"x":3},{"s":"b60","y":-8.718,"x":4},{"s":"b60","y":-9.22,"x":5},{"s":"b60","y":-9.798,"x":6},{"s":"b60","y":-10,"x":6.325},
{"s":"r80","x":10,"y":-4.472},{"s":"r80","x":9.798,"y":-4},{"s":"r80","x":9.434,"y":-3},{"s":"r80","x":9.165,"y":-2},{"s":"r80","x":9,"y":-1},{"s":"r80","x":8.944,"y":0},{"s":"r80","x":9,"y":1},{"s":"r80","x":9.165,"y":2},{"s":"r80","x":9.434,"y":3},{"s":"r80","x":9.798,"y":4},{"s":"r80","x":10,"y":4.472},
{"s":"l80","x":-10,"y":-4.472},{"s":"l80","x":-9.798,"y":-4},{"s":"l80","x":-9.434,"y":-3},{"s":"l80","x":-9.165,"y":-2},{"s":"l80","x":-9,"y":-1},{"s":"l80","x":-8.944,"y":0},{"s":"l80","x":-9,"y":1},{"s":"l80","x":-9.165,"y":2},{"s":"l80","x":-9.434,"y":3},{"s":"l80","x":-9.798,"y":4},{"s":"l80","x":-10,"y":4.472},
{"s":"t80","y":10,"x":-4.472},{"s":"t80","y":9.798,"x":-4},{"s":"t80","y":9.434,"x":-3},{"s":"t80","y":9.165,"x":-2},{"s":"t80","y":9,"x":-1},{"s":"t80","y":8.944,"x":0},{"s":"t80","y":9,"x":1},{"s":"t80","y":9.165,"x":2},{"s":"t80","y":9.434,"x":3},{"s":"t80","y":9.798,"x":4},{"s":"t80","y":10,"x":4.472},
{"s":"b80","y":-10,"x":-4.472},{"s":"b80","y":-9.798,"x":-4},{"s":"b80","y":-9.434,"x":-3},{"s":"b80","y":-9.165,"x":-2},{"s":"b80","y":-9,"x":-1},{"s":"b80","y":-8.944,"x":0},{"s":"b80","y":-9,"x":1},{"s":"b80","y":-9.165,"x":2},{"s":"b80","y":-9.434,"x":3},{"s":"b80","y":-9.798,"x":4},{"s":"b80","y":-10,"x":4.472}
]
},
"layer": [
{
  "data": {"name": "grid"},
  "mark": {"type": "square", "size": 81, "opacity": 1, "filled": true, "strokeWidth": 0, "clip": true},
  "encoding": {
    "x": {"field": "x", "type": "quantitative", "scale": {"domain": [-10, 10], "nice": false, "zero": false},
          "axis": {"orient": "bottom", "values": [-10, -5, 0, 5, 10], "labelPadding": 28, "labelOffset": 2, "labelExpr": "(datum.value < 0 ? '-' : '\u00a0') + abs(datum.value)"}},
    "y": {"field": "y", "type": "quantitative", "scale": {"domain": [-10, 10], "nice": false, "zero": false},
          "axis": {"orient": "left", "values": [-10, -5, 0, 5, 10], "labelPadding": 22.6, "labelExpr": "(datum.value < 0 ? '-' : '') + abs(datum.value)"}},
    "color": {"field": "z", "type": "quantitative",
      "scale": {"domain": [-100, 0, 100], "range": ["#0000ff", "#ffffff", "#ff0000"], "interpolate": "rgb"},
      "legend": {"orient": "none", "legendX": 353.5, "legendY": 0, "direction": "vertical", "gradientLength": 346, "gradientThickness": 17, "gradientStrokeColor": "black", "gradientStrokeWidth": 1, "title": null, "values": [-99.99, -80, -60, -40, -20, 0, 20, 40, 60, 80, 99.99], "labelFont": "DejaVu Sans", "labelFontSize": 21, "labelColor": "black", "labelOffset": 12.5, "labelOverlap": false, "labelLimit": 200, "labelExpr": "(datum.value < 0 ? '-' : '\u00a0') + round(abs(datum.value))"}}
  }
},
{
  "data": {"name": "cont"},
  "mark": {"type": "line", "color": "black", "strokeWidth": 1, "interpolate": "catmull-rom", "clip": true},
  "encoding": {
    "x": {"field": "x", "type": "quantitative", "axis": {"orient": "top", "labels": false, "values": [-10, -5, 0, 5, 10]}},
    "y": {"field": "y", "type": "quantitative", "axis": {"orient": "right", "labels": false, "values": [-10, -5, 0, 5, 10]}},
    "detail": {"field": "s"},
    "order": {"value": null}
  }
}
],
"resolve": {"axis": {"x": "independent", "y": "independent"}}
}
